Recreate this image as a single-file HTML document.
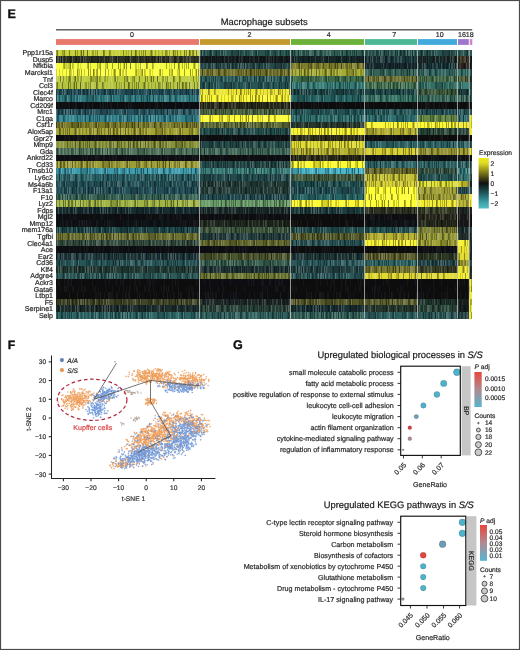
<!DOCTYPE html><html><head><meta charset="utf-8"><style>html,body{margin:0;padding:0;background:#fff;overflow:hidden;width:520px;height:650px}svg{display:block;will-change:transform;text-rendering:geometricPrecision}</style></head><body>
<svg width="520" height="650" viewBox="0 0 520 650">
<rect width="520" height="650" fill="#fff"/>
<text x="7.5" y="17.9" font-family="Liberation Sans, sans-serif" font-size="12.5" font-weight="bold" fill="#111" stroke="#111" stroke-width="0.35">E</text>
<text x="264.2" y="24.9" font-family="Liberation Sans, sans-serif" font-size="9.35" fill="#1a1a1a" stroke="#1a1a1a" stroke-width="0.2" text-anchor="middle">Macrophage subsets</text>
<rect x="56" y="29.1" width="416.2" height="1.4" fill="#555"/>
<rect x="56.00" y="39.1" width="143.00" height="5.8" fill="#E8776C"/>
<rect x="200.00" y="39.1" width="90.00" height="5.8" fill="#C49A2E"/>
<rect x="291.00" y="39.1" width="73.00" height="5.8" fill="#6BB13A"/>
<rect x="365.00" y="39.1" width="52.00" height="5.8" fill="#4DB795"/>
<rect x="418.00" y="39.1" width="39.00" height="5.8" fill="#41A9DC"/>
<rect x="458.00" y="39.1" width="10.80" height="5.8" fill="#9C7ACB"/>
<rect x="469.80" y="39.1" width="2.50" height="5.8" fill="#D67FD0"/>
<g font-family="Liberation Sans, sans-serif" font-size="7.1" fill="#2a2a2a" stroke="#2a2a2a" stroke-width="0.2" text-anchor="middle">
<text x="131.9" y="37.4">0</text>
<text x="249.4" y="37.4">2</text>
<text x="328.8" y="37.4">4</text>
<text x="394.3" y="37.4">7</text>
<text x="439.8" y="37.4">10</text>
<text x="462.0" y="37.4">16</text>
<text x="469.8" y="37.4">18</text>
</g>
<defs><filter id="hb" x="0" y="0" width="1" height="1"><feGaussianBlur stdDeviation="0.35"/></filter></defs><g filter="url(#hb)">
<g shape-rendering="crispEdges">
<rect x="56.00" y="49.50" width="143.50" height="6.61" fill="rgb(197,207,54)"/>
<rect x="56.00" y="56.06" width="143.50" height="6.61" fill="rgb(45,50,35)"/>
<rect x="56.00" y="62.63" width="143.50" height="6.61" fill="rgb(244,254,62)"/>
<rect x="56.00" y="69.19" width="143.50" height="6.61" fill="rgb(252,255,60)"/>
<rect x="56.00" y="75.75" width="143.50" height="6.61" fill="rgb(189,203,58)"/>
<rect x="56.00" y="82.32" width="143.50" height="6.61" fill="rgb(179,194,58)"/>
<rect x="56.00" y="88.88" width="143.50" height="6.61" fill="rgb(35,80,90)"/>
<rect x="56.00" y="95.44" width="143.50" height="6.61" fill="rgb(45,120,125)"/>
<rect x="56.00" y="102.01" width="143.50" height="6.61" fill="rgb(15,15,18)"/>
<rect x="56.00" y="108.57" width="143.50" height="6.61" fill="rgb(40,85,95)"/>
<rect x="56.00" y="115.13" width="143.50" height="6.61" fill="rgb(50,130,140)"/>
<rect x="56.00" y="121.70" width="143.50" height="6.61" fill="rgb(120,120,40)"/>
<rect x="56.00" y="128.26" width="143.50" height="6.61" fill="rgb(163,163,49)"/>
<rect x="56.00" y="134.82" width="143.50" height="6.61" fill="rgb(15,15,18)"/>
<rect x="56.00" y="141.39" width="143.50" height="6.61" fill="rgb(135,146,56)"/>
<rect x="56.00" y="147.95" width="143.50" height="6.61" fill="rgb(80,115,92)"/>
<rect x="56.00" y="154.51" width="143.50" height="6.61" fill="rgb(15,15,20)"/>
<rect x="56.00" y="161.08" width="143.50" height="6.61" fill="rgb(157,157,55)"/>
<rect x="56.00" y="167.64" width="143.50" height="6.61" fill="rgb(60,153,169)"/>
<rect x="56.00" y="174.20" width="143.50" height="6.61" fill="rgb(40,95,100)"/>
<rect x="56.00" y="180.77" width="143.50" height="6.61" fill="rgb(35,80,85)"/>
<rect x="56.00" y="187.33" width="143.50" height="6.61" fill="rgb(35,80,88)"/>
<rect x="56.00" y="193.90" width="143.50" height="6.61" fill="rgb(55,100,85)"/>
<rect x="56.00" y="200.46" width="143.50" height="6.61" fill="rgb(160,180,66)"/>
<rect x="56.00" y="207.02" width="143.50" height="6.61" fill="rgb(22,45,48)"/>
<rect x="56.00" y="213.59" width="143.50" height="6.61" fill="rgb(12,15,18)"/>
<rect x="56.00" y="220.15" width="143.50" height="6.61" fill="rgb(15,18,20)"/>
<rect x="56.00" y="226.71" width="143.50" height="6.61" fill="rgb(30,70,73)"/>
<rect x="56.00" y="233.28" width="143.50" height="6.61" fill="rgb(110,115,50)"/>
<rect x="56.00" y="239.84" width="143.50" height="6.61" fill="rgb(50,75,62)"/>
<rect x="56.00" y="246.40" width="143.50" height="6.61" fill="rgb(12,14,18)"/>
<rect x="56.00" y="252.97" width="143.50" height="6.61" fill="rgb(30,55,58)"/>
<rect x="56.00" y="259.53" width="143.50" height="6.61" fill="rgb(40,85,88)"/>
<rect x="56.00" y="266.09" width="143.50" height="6.61" fill="rgb(35,60,55)"/>
<rect x="56.00" y="272.66" width="143.50" height="6.61" fill="rgb(45,90,90)"/>
<rect x="56.00" y="279.22" width="143.50" height="6.61" fill="rgb(12,12,16)"/>
<rect x="56.00" y="285.78" width="143.50" height="6.61" fill="rgb(14,14,16)"/>
<rect x="56.00" y="292.35" width="143.50" height="6.61" fill="rgb(16,17,16)"/>
<rect x="56.00" y="298.91" width="143.50" height="6.61" fill="rgb(65,70,38)"/>
<rect x="56.00" y="305.47" width="143.50" height="6.61" fill="rgb(30,45,45)"/>
<rect x="56.00" y="312.04" width="143.50" height="6.61" fill="rgb(45,100,100)"/>
<rect x="199.50" y="49.50" width="91.00" height="6.61" fill="rgb(40,85,80)"/>
<rect x="199.50" y="56.06" width="91.00" height="6.61" fill="rgb(20,28,30)"/>
<rect x="199.50" y="62.63" width="91.00" height="6.61" fill="rgb(40,75,75)"/>
<rect x="199.50" y="69.19" width="91.00" height="6.61" fill="rgb(110,110,40)"/>
<rect x="199.50" y="75.75" width="91.00" height="6.61" fill="rgb(45,95,95)"/>
<rect x="199.50" y="82.32" width="91.00" height="6.61" fill="rgb(40,85,85)"/>
<rect x="199.50" y="88.88" width="91.00" height="6.61" fill="rgb(235,229,48)"/>
<rect x="199.50" y="95.44" width="91.00" height="6.61" fill="rgb(252,247,48)"/>
<rect x="199.50" y="102.01" width="91.00" height="6.61" fill="rgb(40,40,25)"/>
<rect x="199.50" y="108.57" width="91.00" height="6.61" fill="rgb(75,100,65)"/>
<rect x="199.50" y="115.13" width="91.00" height="6.61" fill="rgb(255,252,54)"/>
<rect x="199.50" y="121.70" width="91.00" height="6.61" fill="rgb(95,110,55)"/>
<rect x="199.50" y="128.26" width="91.00" height="6.61" fill="rgb(35,75,75)"/>
<rect x="199.50" y="134.82" width="91.00" height="6.61" fill="rgb(12,15,18)"/>
<rect x="199.50" y="141.39" width="91.00" height="6.61" fill="rgb(35,70,70)"/>
<rect x="199.50" y="147.95" width="91.00" height="6.61" fill="rgb(60,100,85)"/>
<rect x="199.50" y="154.51" width="91.00" height="6.61" fill="rgb(15,15,18)"/>
<rect x="199.50" y="161.08" width="91.00" height="6.61" fill="rgb(35,70,70)"/>
<rect x="199.50" y="167.64" width="91.00" height="6.61" fill="rgb(55,125,120)"/>
<rect x="199.50" y="174.20" width="91.00" height="6.61" fill="rgb(35,75,78)"/>
<rect x="199.50" y="180.77" width="91.00" height="6.61" fill="rgb(35,60,55)"/>
<rect x="199.50" y="187.33" width="91.00" height="6.61" fill="rgb(35,60,55)"/>
<rect x="199.50" y="193.90" width="91.00" height="6.61" fill="rgb(35,75,80)"/>
<rect x="199.50" y="200.46" width="91.00" height="6.61" fill="rgb(102,154,102)"/>
<rect x="199.50" y="207.02" width="91.00" height="6.61" fill="rgb(25,40,40)"/>
<rect x="199.50" y="213.59" width="91.00" height="6.61" fill="rgb(15,15,18)"/>
<rect x="199.50" y="220.15" width="91.00" height="6.61" fill="rgb(30,40,30)"/>
<rect x="199.50" y="226.71" width="91.00" height="6.61" fill="rgb(60,85,60)"/>
<rect x="199.50" y="233.28" width="91.00" height="6.61" fill="rgb(35,60,60)"/>
<rect x="199.50" y="239.84" width="91.00" height="6.61" fill="rgb(100,105,45)"/>
<rect x="199.50" y="246.40" width="91.00" height="6.61" fill="rgb(12,12,18)"/>
<rect x="199.50" y="252.97" width="91.00" height="6.61" fill="rgb(75,85,45)"/>
<rect x="199.50" y="259.53" width="91.00" height="6.61" fill="rgb(55,95,80)"/>
<rect x="199.50" y="266.09" width="91.00" height="6.61" fill="rgb(30,50,50)"/>
<rect x="199.50" y="272.66" width="91.00" height="6.61" fill="rgb(110,120,50)"/>
<rect x="199.50" y="279.22" width="91.00" height="6.61" fill="rgb(12,12,18)"/>
<rect x="199.50" y="285.78" width="91.00" height="6.61" fill="rgb(12,12,16)"/>
<rect x="199.50" y="292.35" width="91.00" height="6.61" fill="rgb(15,16,18)"/>
<rect x="199.50" y="298.91" width="91.00" height="6.61" fill="rgb(30,40,38)"/>
<rect x="199.50" y="305.47" width="91.00" height="6.61" fill="rgb(40,65,55)"/>
<rect x="199.50" y="312.04" width="91.00" height="6.61" fill="rgb(45,95,90)"/>
<rect x="290.50" y="49.50" width="74.00" height="6.61" fill="rgb(45,92,82)"/>
<rect x="290.50" y="56.06" width="74.00" height="6.61" fill="rgb(20,38,38)"/>
<rect x="290.50" y="62.63" width="74.00" height="6.61" fill="rgb(126,126,42)"/>
<rect x="290.50" y="69.19" width="74.00" height="6.61" fill="rgb(164,170,51)"/>
<rect x="290.50" y="75.75" width="74.00" height="6.61" fill="rgb(60,108,75)"/>
<rect x="290.50" y="82.32" width="74.00" height="6.61" fill="rgb(50,120,115)"/>
<rect x="290.50" y="88.88" width="74.00" height="6.61" fill="rgb(30,70,72)"/>
<rect x="290.50" y="95.44" width="74.00" height="6.61" fill="rgb(40,100,100)"/>
<rect x="290.50" y="102.01" width="74.00" height="6.61" fill="rgb(14,14,15)"/>
<rect x="290.50" y="108.57" width="74.00" height="6.61" fill="rgb(35,82,84)"/>
<rect x="290.50" y="115.13" width="74.00" height="6.61" fill="rgb(45,110,108)"/>
<rect x="290.50" y="121.70" width="74.00" height="6.61" fill="rgb(38,55,45)"/>
<rect x="290.50" y="128.26" width="74.00" height="6.61" fill="rgb(247,242,46)"/>
<rect x="290.50" y="134.82" width="74.00" height="6.61" fill="rgb(45,45,25)"/>
<rect x="290.50" y="141.39" width="74.00" height="6.61" fill="rgb(223,219,48)"/>
<rect x="290.50" y="147.95" width="74.00" height="6.61" fill="rgb(183,178,47)"/>
<rect x="290.50" y="154.51" width="74.00" height="6.61" fill="rgb(40,40,22)"/>
<rect x="290.50" y="161.08" width="74.00" height="6.61" fill="rgb(255,252,51)"/>
<rect x="290.50" y="167.64" width="74.00" height="6.61" fill="rgb(73,179,199)"/>
<rect x="290.50" y="174.20" width="74.00" height="6.61" fill="rgb(65,90,62)"/>
<rect x="290.50" y="180.77" width="74.00" height="6.61" fill="rgb(30,75,76)"/>
<rect x="290.50" y="187.33" width="74.00" height="6.61" fill="rgb(35,80,85)"/>
<rect x="290.50" y="193.90" width="74.00" height="6.61" fill="rgb(40,100,100)"/>
<rect x="290.50" y="200.46" width="74.00" height="6.61" fill="rgb(255,249,51)"/>
<rect x="290.50" y="207.02" width="74.00" height="6.61" fill="rgb(30,60,60)"/>
<rect x="290.50" y="213.59" width="74.00" height="6.61" fill="rgb(13,13,15)"/>
<rect x="290.50" y="220.15" width="74.00" height="6.61" fill="rgb(15,15,16)"/>
<rect x="290.50" y="226.71" width="74.00" height="6.61" fill="rgb(35,78,78)"/>
<rect x="290.50" y="233.28" width="74.00" height="6.61" fill="rgb(85,92,42)"/>
<rect x="290.50" y="239.84" width="74.00" height="6.61" fill="rgb(38,80,82)"/>
<rect x="290.50" y="246.40" width="74.00" height="6.61" fill="rgb(13,14,16)"/>
<rect x="290.50" y="252.97" width="74.00" height="6.61" fill="rgb(28,52,54)"/>
<rect x="290.50" y="259.53" width="74.00" height="6.61" fill="rgb(42,88,90)"/>
<rect x="290.50" y="266.09" width="74.00" height="6.61" fill="rgb(33,66,68)"/>
<rect x="290.50" y="272.66" width="74.00" height="6.61" fill="rgb(42,88,90)"/>
<rect x="290.50" y="279.22" width="74.00" height="6.61" fill="rgb(12,12,14)"/>
<rect x="290.50" y="285.78" width="74.00" height="6.61" fill="rgb(12,12,14)"/>
<rect x="290.50" y="292.35" width="74.00" height="6.61" fill="rgb(15,15,15)"/>
<rect x="290.50" y="298.91" width="74.00" height="6.61" fill="rgb(85,88,40)"/>
<rect x="290.50" y="305.47" width="74.00" height="6.61" fill="rgb(25,48,52)"/>
<rect x="290.50" y="312.04" width="74.00" height="6.61" fill="rgb(50,95,88)"/>
<rect x="364.50" y="49.50" width="53.00" height="6.61" fill="rgb(40,84,78)"/>
<rect x="364.50" y="56.06" width="53.00" height="6.61" fill="rgb(25,52,55)"/>
<rect x="364.50" y="62.63" width="53.00" height="6.61" fill="rgb(20,38,42)"/>
<rect x="364.50" y="69.19" width="53.00" height="6.61" fill="rgb(52,100,88)"/>
<rect x="364.50" y="75.75" width="53.00" height="6.61" fill="rgb(105,110,48)"/>
<rect x="364.50" y="82.32" width="53.00" height="6.61" fill="rgb(70,118,85)"/>
<rect x="364.50" y="88.88" width="53.00" height="6.61" fill="rgb(30,70,70)"/>
<rect x="364.50" y="95.44" width="53.00" height="6.61" fill="rgb(50,110,95)"/>
<rect x="364.50" y="102.01" width="53.00" height="6.61" fill="rgb(15,15,15)"/>
<rect x="364.50" y="108.57" width="53.00" height="6.61" fill="rgb(35,85,85)"/>
<rect x="364.50" y="115.13" width="53.00" height="6.61" fill="rgb(45,110,110)"/>
<rect x="364.50" y="121.70" width="53.00" height="6.61" fill="rgb(252,247,48)"/>
<rect x="364.50" y="128.26" width="53.00" height="6.61" fill="rgb(183,177,49)"/>
<rect x="364.50" y="134.82" width="53.00" height="6.61" fill="rgb(15,15,18)"/>
<rect x="364.50" y="141.39" width="53.00" height="6.61" fill="rgb(45,100,100)"/>
<rect x="364.50" y="147.95" width="53.00" height="6.61" fill="rgb(212,206,48)"/>
<rect x="364.50" y="154.51" width="53.00" height="6.61" fill="rgb(15,18,20)"/>
<rect x="364.50" y="161.08" width="53.00" height="6.61" fill="rgb(45,100,100)"/>
<rect x="364.50" y="167.64" width="53.00" height="6.61" fill="rgb(100,100,40)"/>
<rect x="364.50" y="174.20" width="53.00" height="6.61" fill="rgb(197,191,49)"/>
<rect x="364.50" y="180.77" width="53.00" height="6.61" fill="rgb(212,206,48)"/>
<rect x="364.50" y="187.33" width="53.00" height="6.61" fill="rgb(255,255,51)"/>
<rect x="364.50" y="193.90" width="53.00" height="6.61" fill="rgb(255,255,51)"/>
<rect x="364.50" y="200.46" width="53.00" height="6.61" fill="rgb(255,255,51)"/>
<rect x="364.50" y="207.02" width="53.00" height="6.61" fill="rgb(45,50,35)"/>
<rect x="364.50" y="213.59" width="53.00" height="6.61" fill="rgb(15,15,18)"/>
<rect x="364.50" y="220.15" width="53.00" height="6.61" fill="rgb(15,18,20)"/>
<rect x="364.50" y="226.71" width="53.00" height="6.61" fill="rgb(38,82,82)"/>
<rect x="364.50" y="233.28" width="53.00" height="6.61" fill="rgb(183,177,49)"/>
<rect x="364.50" y="239.84" width="53.00" height="6.61" fill="rgb(247,241,48)"/>
<rect x="364.50" y="246.40" width="53.00" height="6.61" fill="rgb(15,15,15)"/>
<rect x="364.50" y="252.97" width="53.00" height="6.61" fill="rgb(95,95,45)"/>
<rect x="364.50" y="259.53" width="53.00" height="6.61" fill="rgb(45,100,100)"/>
<rect x="364.50" y="266.09" width="53.00" height="6.61" fill="rgb(120,120,45)"/>
<rect x="364.50" y="272.66" width="53.00" height="6.61" fill="rgb(223,217,48)"/>
<rect x="364.50" y="279.22" width="53.00" height="6.61" fill="rgb(12,12,15)"/>
<rect x="364.50" y="285.78" width="53.00" height="6.61" fill="rgb(12,12,15)"/>
<rect x="364.50" y="292.35" width="53.00" height="6.61" fill="rgb(15,15,15)"/>
<rect x="364.50" y="298.91" width="53.00" height="6.61" fill="rgb(95,100,50)"/>
<rect x="364.50" y="305.47" width="53.00" height="6.61" fill="rgb(40,55,45)"/>
<rect x="364.50" y="312.04" width="53.00" height="6.61" fill="rgb(45,95,95)"/>
<rect x="417.50" y="49.50" width="40.00" height="6.61" fill="rgb(40,82,80)"/>
<rect x="417.50" y="56.06" width="40.00" height="6.61" fill="rgb(25,42,42)"/>
<rect x="417.50" y="62.63" width="40.00" height="6.61" fill="rgb(25,52,58)"/>
<rect x="417.50" y="69.19" width="40.00" height="6.61" fill="rgb(45,95,90)"/>
<rect x="417.50" y="75.75" width="40.00" height="6.61" fill="rgb(70,110,75)"/>
<rect x="417.50" y="82.32" width="40.00" height="6.61" fill="rgb(50,110,100)"/>
<rect x="417.50" y="88.88" width="40.00" height="6.61" fill="rgb(55,85,55)"/>
<rect x="417.50" y="95.44" width="40.00" height="6.61" fill="rgb(55,105,90)"/>
<rect x="417.50" y="102.01" width="40.00" height="6.61" fill="rgb(15,15,15)"/>
<rect x="417.50" y="108.57" width="40.00" height="6.61" fill="rgb(35,80,85)"/>
<rect x="417.50" y="115.13" width="40.00" height="6.61" fill="rgb(101,136,70)"/>
<rect x="417.50" y="121.70" width="40.00" height="6.61" fill="rgb(252,247,43)"/>
<rect x="417.50" y="128.26" width="40.00" height="6.61" fill="rgb(40,70,55)"/>
<rect x="417.50" y="134.82" width="40.00" height="6.61" fill="rgb(15,15,15)"/>
<rect x="417.50" y="141.39" width="40.00" height="6.61" fill="rgb(45,100,100)"/>
<rect x="417.50" y="147.95" width="40.00" height="6.61" fill="rgb(144,142,45)"/>
<rect x="417.50" y="154.51" width="40.00" height="6.61" fill="rgb(15,18,20)"/>
<rect x="417.50" y="161.08" width="40.00" height="6.61" fill="rgb(45,100,100)"/>
<rect x="417.50" y="167.64" width="40.00" height="6.61" fill="rgb(50,80,65)"/>
<rect x="417.50" y="174.20" width="40.00" height="6.61" fill="rgb(40,85,85)"/>
<rect x="417.50" y="180.77" width="40.00" height="6.61" fill="rgb(223,223,48)"/>
<rect x="417.50" y="187.33" width="40.00" height="6.61" fill="rgb(157,157,49)"/>
<rect x="417.50" y="193.90" width="40.00" height="6.61" fill="rgb(157,157,49)"/>
<rect x="417.50" y="200.46" width="40.00" height="6.61" fill="rgb(241,235,48)"/>
<rect x="417.50" y="207.02" width="40.00" height="6.61" fill="rgb(50,55,35)"/>
<rect x="417.50" y="213.59" width="40.00" height="6.61" fill="rgb(38,38,26)"/>
<rect x="417.50" y="220.15" width="40.00" height="6.61" fill="rgb(35,38,25)"/>
<rect x="417.50" y="226.71" width="40.00" height="6.61" fill="rgb(121,126,50)"/>
<rect x="417.50" y="233.28" width="40.00" height="6.61" fill="rgb(145,150,49)"/>
<rect x="417.50" y="239.84" width="40.00" height="6.61" fill="rgb(157,157,49)"/>
<rect x="417.50" y="246.40" width="40.00" height="6.61" fill="rgb(15,15,20)"/>
<rect x="417.50" y="252.97" width="40.00" height="6.61" fill="rgb(45,55,35)"/>
<rect x="417.50" y="259.53" width="40.00" height="6.61" fill="rgb(35,70,75)"/>
<rect x="417.50" y="266.09" width="40.00" height="6.61" fill="rgb(55,60,35)"/>
<rect x="417.50" y="272.66" width="40.00" height="6.61" fill="rgb(223,217,48)"/>
<rect x="417.50" y="279.22" width="40.00" height="6.61" fill="rgb(12,12,15)"/>
<rect x="417.50" y="285.78" width="40.00" height="6.61" fill="rgb(12,12,15)"/>
<rect x="417.50" y="292.35" width="40.00" height="6.61" fill="rgb(14,14,15)"/>
<rect x="417.50" y="298.91" width="40.00" height="6.61" fill="rgb(30,48,42)"/>
<rect x="417.50" y="305.47" width="40.00" height="6.61" fill="rgb(38,66,54)"/>
<rect x="417.50" y="312.04" width="40.00" height="6.61" fill="rgb(42,86,86)"/>
<rect x="457.50" y="49.50" width="11.80" height="6.61" fill="rgb(40,82,76)"/>
<rect x="457.50" y="56.06" width="11.80" height="6.61" fill="rgb(58,53,35)"/>
<rect x="457.50" y="62.63" width="11.80" height="6.61" fill="rgb(45,38,32)"/>
<rect x="457.50" y="69.19" width="11.80" height="6.61" fill="rgb(58,118,110)"/>
<rect x="457.50" y="75.75" width="11.80" height="6.61" fill="rgb(78,98,58)"/>
<rect x="457.50" y="82.32" width="11.80" height="6.61" fill="rgb(60,128,118)"/>
<rect x="457.50" y="88.88" width="11.80" height="6.61" fill="rgb(30,60,60)"/>
<rect x="457.50" y="95.44" width="11.80" height="6.61" fill="rgb(62,108,95)"/>
<rect x="457.50" y="102.01" width="11.80" height="6.61" fill="rgb(15,15,15)"/>
<rect x="457.50" y="108.57" width="11.80" height="6.61" fill="rgb(40,90,90)"/>
<rect x="457.50" y="115.13" width="11.80" height="6.61" fill="rgb(45,105,110)"/>
<rect x="457.50" y="121.70" width="11.80" height="6.61" fill="rgb(241,235,43)"/>
<rect x="457.50" y="128.26" width="11.80" height="6.61" fill="rgb(40,65,55)"/>
<rect x="457.50" y="134.82" width="11.80" height="6.61" fill="rgb(15,15,15)"/>
<rect x="457.50" y="141.39" width="11.80" height="6.61" fill="rgb(40,95,95)"/>
<rect x="457.50" y="147.95" width="11.80" height="6.61" fill="rgb(162,157,47)"/>
<rect x="457.50" y="154.51" width="11.80" height="6.61" fill="rgb(15,18,20)"/>
<rect x="457.50" y="161.08" width="11.80" height="6.61" fill="rgb(45,100,100)"/>
<rect x="457.50" y="167.64" width="11.80" height="6.61" fill="rgb(55,130,130)"/>
<rect x="457.50" y="174.20" width="11.80" height="6.61" fill="rgb(50,110,110)"/>
<rect x="457.50" y="180.77" width="11.80" height="6.61" fill="rgb(212,206,48)"/>
<rect x="457.50" y="187.33" width="11.80" height="6.61" fill="rgb(40,75,80)"/>
<rect x="457.50" y="193.90" width="11.80" height="6.61" fill="rgb(169,164,49)"/>
<rect x="457.50" y="200.46" width="11.80" height="6.61" fill="rgb(183,177,49)"/>
<rect x="457.50" y="207.02" width="11.80" height="6.61" fill="rgb(30,38,35)"/>
<rect x="457.50" y="213.59" width="11.80" height="6.61" fill="rgb(28,30,28)"/>
<rect x="457.50" y="220.15" width="11.80" height="6.61" fill="rgb(20,20,20)"/>
<rect x="457.50" y="226.71" width="11.80" height="6.61" fill="rgb(30,48,48)"/>
<rect x="457.50" y="233.28" width="11.80" height="6.61" fill="rgb(32,45,42)"/>
<rect x="457.50" y="239.84" width="11.80" height="6.61" fill="rgb(247,241,48)"/>
<rect x="457.50" y="246.40" width="11.80" height="6.61" fill="rgb(235,229,48)"/>
<rect x="457.50" y="252.97" width="11.80" height="6.61" fill="rgb(223,217,48)"/>
<rect x="457.50" y="259.53" width="11.80" height="6.61" fill="rgb(157,157,49)"/>
<rect x="457.50" y="266.09" width="11.80" height="6.61" fill="rgb(235,229,48)"/>
<rect x="457.50" y="272.66" width="11.80" height="6.61" fill="rgb(247,241,48)"/>
<rect x="457.50" y="279.22" width="11.80" height="6.61" fill="rgb(12,12,15)"/>
<rect x="457.50" y="285.78" width="11.80" height="6.61" fill="rgb(12,12,15)"/>
<rect x="457.50" y="292.35" width="11.80" height="6.61" fill="rgb(14,14,15)"/>
<rect x="457.50" y="298.91" width="11.80" height="6.61" fill="rgb(20,28,28)"/>
<rect x="457.50" y="305.47" width="11.80" height="6.61" fill="rgb(20,30,30)"/>
<rect x="457.50" y="312.04" width="11.80" height="6.61" fill="rgb(30,55,55)"/>
<rect x="469.30" y="49.50" width="3.00" height="6.61" fill="rgb(40,85,85)"/>
<rect x="469.30" y="56.06" width="3.00" height="6.61" fill="rgb(25,40,40)"/>
<rect x="469.30" y="62.63" width="3.00" height="6.61" fill="rgb(25,40,40)"/>
<rect x="469.30" y="69.19" width="3.00" height="6.61" fill="rgb(40,85,85)"/>
<rect x="469.30" y="75.75" width="3.00" height="6.61" fill="rgb(40,70,60)"/>
<rect x="469.30" y="82.32" width="3.00" height="6.61" fill="rgb(40,85,85)"/>
<rect x="469.30" y="88.88" width="3.00" height="6.61" fill="rgb(40,85,85)"/>
<rect x="469.30" y="95.44" width="3.00" height="6.61" fill="rgb(40,85,85)"/>
<rect x="469.30" y="102.01" width="3.00" height="6.61" fill="rgb(15,15,15)"/>
<rect x="469.30" y="108.57" width="3.00" height="6.61" fill="rgb(40,85,85)"/>
<rect x="469.30" y="115.13" width="3.00" height="6.61" fill="rgb(241,235,48)"/>
<rect x="469.30" y="121.70" width="3.00" height="6.61" fill="rgb(241,235,48)"/>
<rect x="469.30" y="128.26" width="3.00" height="6.61" fill="rgb(241,235,48)"/>
<rect x="469.30" y="134.82" width="3.00" height="6.61" fill="rgb(15,15,15)"/>
<rect x="469.30" y="141.39" width="3.00" height="6.61" fill="rgb(40,85,85)"/>
<rect x="469.30" y="147.95" width="3.00" height="6.61" fill="rgb(241,235,48)"/>
<rect x="469.30" y="154.51" width="3.00" height="6.61" fill="rgb(15,15,15)"/>
<rect x="469.30" y="161.08" width="3.00" height="6.61" fill="rgb(40,85,85)"/>
<rect x="469.30" y="167.64" width="3.00" height="6.61" fill="rgb(40,85,85)"/>
<rect x="469.30" y="174.20" width="3.00" height="6.61" fill="rgb(40,85,85)"/>
<rect x="469.30" y="180.77" width="3.00" height="6.61" fill="rgb(30,45,45)"/>
<rect x="469.30" y="187.33" width="3.00" height="6.61" fill="rgb(40,85,85)"/>
<rect x="469.30" y="193.90" width="3.00" height="6.61" fill="rgb(241,235,48)"/>
<rect x="469.30" y="200.46" width="3.00" height="6.61" fill="rgb(241,235,48)"/>
<rect x="469.30" y="207.02" width="3.00" height="6.61" fill="rgb(30,35,30)"/>
<rect x="469.30" y="213.59" width="3.00" height="6.61" fill="rgb(15,15,15)"/>
<rect x="469.30" y="220.15" width="3.00" height="6.61" fill="rgb(15,15,15)"/>
<rect x="469.30" y="226.71" width="3.00" height="6.61" fill="rgb(30,55,55)"/>
<rect x="469.30" y="233.28" width="3.00" height="6.61" fill="rgb(30,45,45)"/>
<rect x="469.30" y="239.84" width="3.00" height="6.61" fill="rgb(30,45,45)"/>
<rect x="469.30" y="246.40" width="3.00" height="6.61" fill="rgb(30,40,40)"/>
<rect x="469.30" y="252.97" width="3.00" height="6.61" fill="rgb(30,45,45)"/>
<rect x="469.30" y="259.53" width="3.00" height="6.61" fill="rgb(40,70,60)"/>
<rect x="469.30" y="266.09" width="3.00" height="6.61" fill="rgb(30,45,45)"/>
<rect x="469.30" y="272.66" width="3.00" height="6.61" fill="rgb(40,60,50)"/>
<rect x="469.30" y="279.22" width="3.00" height="6.61" fill="rgb(241,235,48)"/>
<rect x="469.30" y="285.78" width="3.00" height="6.61" fill="rgb(241,235,48)"/>
<rect x="469.30" y="292.35" width="3.00" height="6.61" fill="rgb(241,235,48)"/>
<rect x="469.30" y="298.91" width="3.00" height="6.61" fill="rgb(241,235,48)"/>
<rect x="469.30" y="305.47" width="3.00" height="6.61" fill="rgb(241,235,48)"/>
<rect x="469.30" y="312.04" width="3.00" height="6.61" fill="rgb(241,235,48)"/>
</g>
<defs><pattern id="st" width="211" height="10" patternUnits="userSpaceOnUse">
<rect x="0" y="0" width="1" height="10" fill="#000" fill-opacity="0.18"/>
<rect x="1" y="0" width="1" height="10" fill="#fff" fill-opacity="0.06"/>
<rect x="2" y="0" width="1" height="10" fill="#fff" fill-opacity="0.10"/>
<rect x="3" y="0" width="1" height="10" fill="#000" fill-opacity="0.31"/>
<rect x="4" y="0" width="1" height="10" fill="#000" fill-opacity="0.28"/>
<rect x="5" y="0" width="1" height="10" fill="#000" fill-opacity="0.15"/>
<rect x="6" y="0" width="1" height="10" fill="#fff" fill-opacity="0.17"/>
<rect x="7" y="0" width="1" height="10" fill="#000" fill-opacity="0.20"/>
<rect x="8" y="0" width="1" height="10" fill="#fff" fill-opacity="0.19"/>
<rect x="9" y="0" width="1" height="10" fill="#fff" fill-opacity="0.11"/>
<rect x="11" y="0" width="1" height="10" fill="#000" fill-opacity="0.45"/>
<rect x="12" y="0" width="1" height="10" fill="#000" fill-opacity="0.17"/>
<rect x="13" y="0" width="1" height="10" fill="#000" fill-opacity="0.24"/>
<rect x="15" y="0" width="1" height="10" fill="#000" fill-opacity="0.34"/>
<rect x="16" y="0" width="1" height="10" fill="#fff" fill-opacity="0.11"/>
<rect x="17" y="0" width="1" height="10" fill="#fff" fill-opacity="0.06"/>
<rect x="18" y="0" width="1" height="10" fill="#000" fill-opacity="0.20"/>
<rect x="20" y="0" width="1" height="10" fill="#fff" fill-opacity="0.10"/>
<rect x="21" y="0" width="1" height="10" fill="#fff" fill-opacity="0.12"/>
<rect x="22" y="0" width="1" height="10" fill="#000" fill-opacity="0.42"/>
<rect x="24" y="0" width="1" height="10" fill="#000" fill-opacity="0.34"/>
<rect x="25" y="0" width="1" height="10" fill="#fff" fill-opacity="0.18"/>
<rect x="27" y="0" width="1" height="10" fill="#000" fill-opacity="0.49"/>
<rect x="28" y="0" width="1" height="10" fill="#000" fill-opacity="0.28"/>
<rect x="30" y="0" width="1" height="10" fill="#000" fill-opacity="0.31"/>
<rect x="31" y="0" width="1" height="10" fill="#000" fill-opacity="0.37"/>
<rect x="33" y="0" width="1" height="10" fill="#fff" fill-opacity="0.18"/>
<rect x="34" y="0" width="1" height="10" fill="#000" fill-opacity="0.38"/>
<rect x="35" y="0" width="1" height="10" fill="#fff" fill-opacity="0.14"/>
<rect x="36" y="0" width="1" height="10" fill="#fff" fill-opacity="0.18"/>
<rect x="38" y="0" width="1" height="10" fill="#fff" fill-opacity="0.15"/>
<rect x="39" y="0" width="1" height="10" fill="#000" fill-opacity="0.39"/>
<rect x="40" y="0" width="1" height="10" fill="#fff" fill-opacity="0.20"/>
<rect x="42" y="0" width="1" height="10" fill="#000" fill-opacity="0.27"/>
<rect x="43" y="0" width="1" height="10" fill="#fff" fill-opacity="0.05"/>
<rect x="44" y="0" width="1" height="10" fill="#fff" fill-opacity="0.08"/>
<rect x="45" y="0" width="1" height="10" fill="#000" fill-opacity="0.14"/>
<rect x="47" y="0" width="1" height="10" fill="#000" fill-opacity="0.21"/>
<rect x="48" y="0" width="1" height="10" fill="#000" fill-opacity="0.45"/>
<rect x="49" y="0" width="1" height="10" fill="#000" fill-opacity="0.29"/>
<rect x="50" y="0" width="1" height="10" fill="#fff" fill-opacity="0.18"/>
<rect x="53" y="0" width="1" height="10" fill="#000" fill-opacity="0.28"/>
<rect x="54" y="0" width="1" height="10" fill="#000" fill-opacity="0.46"/>
<rect x="56" y="0" width="1" height="10" fill="#000" fill-opacity="0.19"/>
<rect x="57" y="0" width="1" height="10" fill="#000" fill-opacity="0.21"/>
<rect x="58" y="0" width="1" height="10" fill="#fff" fill-opacity="0.14"/>
<rect x="59" y="0" width="1" height="10" fill="#000" fill-opacity="0.12"/>
<rect x="60" y="0" width="1" height="10" fill="#000" fill-opacity="0.26"/>
<rect x="61" y="0" width="1" height="10" fill="#fff" fill-opacity="0.19"/>
<rect x="63" y="0" width="1" height="10" fill="#fff" fill-opacity="0.14"/>
<rect x="64" y="0" width="1" height="10" fill="#fff" fill-opacity="0.06"/>
<rect x="69" y="0" width="1" height="10" fill="#000" fill-opacity="0.27"/>
<rect x="70" y="0" width="1" height="10" fill="#000" fill-opacity="0.36"/>
<rect x="71" y="0" width="1" height="10" fill="#000" fill-opacity="0.15"/>
<rect x="72" y="0" width="1" height="10" fill="#000" fill-opacity="0.18"/>
<rect x="73" y="0" width="1" height="10" fill="#000" fill-opacity="0.14"/>
<rect x="74" y="0" width="1" height="10" fill="#000" fill-opacity="0.18"/>
<rect x="75" y="0" width="1" height="10" fill="#000" fill-opacity="0.26"/>
<rect x="76" y="0" width="1" height="10" fill="#000" fill-opacity="0.45"/>
<rect x="77" y="0" width="1" height="10" fill="#fff" fill-opacity="0.07"/>
<rect x="78" y="0" width="1" height="10" fill="#000" fill-opacity="0.25"/>
<rect x="79" y="0" width="1" height="10" fill="#000" fill-opacity="0.17"/>
<rect x="82" y="0" width="1" height="10" fill="#fff" fill-opacity="0.12"/>
<rect x="83" y="0" width="1" height="10" fill="#000" fill-opacity="0.16"/>
<rect x="84" y="0" width="1" height="10" fill="#000" fill-opacity="0.22"/>
<rect x="86" y="0" width="1" height="10" fill="#000" fill-opacity="0.13"/>
<rect x="88" y="0" width="1" height="10" fill="#fff" fill-opacity="0.07"/>
<rect x="89" y="0" width="1" height="10" fill="#fff" fill-opacity="0.05"/>
<rect x="90" y="0" width="1" height="10" fill="#fff" fill-opacity="0.20"/>
<rect x="93" y="0" width="1" height="10" fill="#000" fill-opacity="0.26"/>
<rect x="94" y="0" width="1" height="10" fill="#000" fill-opacity="0.41"/>
<rect x="95" y="0" width="1" height="10" fill="#fff" fill-opacity="0.17"/>
<rect x="96" y="0" width="1" height="10" fill="#000" fill-opacity="0.20"/>
<rect x="103" y="0" width="1" height="10" fill="#000" fill-opacity="0.32"/>
<rect x="104" y="0" width="1" height="10" fill="#000" fill-opacity="0.13"/>
<rect x="105" y="0" width="1" height="10" fill="#000" fill-opacity="0.23"/>
<rect x="106" y="0" width="1" height="10" fill="#000" fill-opacity="0.38"/>
<rect x="108" y="0" width="1" height="10" fill="#fff" fill-opacity="0.19"/>
<rect x="111" y="0" width="1" height="10" fill="#000" fill-opacity="0.20"/>
<rect x="112" y="0" width="1" height="10" fill="#000" fill-opacity="0.19"/>
<rect x="113" y="0" width="1" height="10" fill="#000" fill-opacity="0.36"/>
<rect x="116" y="0" width="1" height="10" fill="#fff" fill-opacity="0.15"/>
<rect x="118" y="0" width="1" height="10" fill="#000" fill-opacity="0.37"/>
<rect x="122" y="0" width="1" height="10" fill="#fff" fill-opacity="0.08"/>
<rect x="124" y="0" width="1" height="10" fill="#000" fill-opacity="0.42"/>
<rect x="126" y="0" width="1" height="10" fill="#000" fill-opacity="0.27"/>
<rect x="129" y="0" width="1" height="10" fill="#000" fill-opacity="0.17"/>
<rect x="130" y="0" width="1" height="10" fill="#000" fill-opacity="0.46"/>
<rect x="132" y="0" width="1" height="10" fill="#000" fill-opacity="0.43"/>
<rect x="134" y="0" width="1" height="10" fill="#fff" fill-opacity="0.10"/>
<rect x="135" y="0" width="1" height="10" fill="#fff" fill-opacity="0.07"/>
<rect x="136" y="0" width="1" height="10" fill="#000" fill-opacity="0.49"/>
<rect x="137" y="0" width="1" height="10" fill="#fff" fill-opacity="0.13"/>
<rect x="139" y="0" width="1" height="10" fill="#fff" fill-opacity="0.18"/>
<rect x="141" y="0" width="1" height="10" fill="#000" fill-opacity="0.22"/>
<rect x="142" y="0" width="1" height="10" fill="#000" fill-opacity="0.21"/>
<rect x="143" y="0" width="1" height="10" fill="#fff" fill-opacity="0.09"/>
<rect x="144" y="0" width="1" height="10" fill="#000" fill-opacity="0.17"/>
<rect x="146" y="0" width="1" height="10" fill="#000" fill-opacity="0.29"/>
<rect x="147" y="0" width="1" height="10" fill="#fff" fill-opacity="0.19"/>
<rect x="148" y="0" width="1" height="10" fill="#fff" fill-opacity="0.19"/>
<rect x="149" y="0" width="1" height="10" fill="#fff" fill-opacity="0.13"/>
<rect x="150" y="0" width="1" height="10" fill="#fff" fill-opacity="0.05"/>
<rect x="151" y="0" width="1" height="10" fill="#fff" fill-opacity="0.08"/>
<rect x="152" y="0" width="1" height="10" fill="#000" fill-opacity="0.42"/>
<rect x="153" y="0" width="1" height="10" fill="#000" fill-opacity="0.30"/>
<rect x="155" y="0" width="1" height="10" fill="#fff" fill-opacity="0.10"/>
<rect x="156" y="0" width="1" height="10" fill="#fff" fill-opacity="0.13"/>
<rect x="158" y="0" width="1" height="10" fill="#000" fill-opacity="0.33"/>
<rect x="159" y="0" width="1" height="10" fill="#000" fill-opacity="0.23"/>
<rect x="161" y="0" width="1" height="10" fill="#fff" fill-opacity="0.13"/>
<rect x="164" y="0" width="1" height="10" fill="#fff" fill-opacity="0.14"/>
<rect x="165" y="0" width="1" height="10" fill="#fff" fill-opacity="0.13"/>
<rect x="167" y="0" width="1" height="10" fill="#fff" fill-opacity="0.13"/>
<rect x="168" y="0" width="1" height="10" fill="#fff" fill-opacity="0.19"/>
<rect x="172" y="0" width="1" height="10" fill="#000" fill-opacity="0.33"/>
<rect x="175" y="0" width="1" height="10" fill="#000" fill-opacity="0.17"/>
<rect x="176" y="0" width="1" height="10" fill="#fff" fill-opacity="0.06"/>
<rect x="177" y="0" width="1" height="10" fill="#000" fill-opacity="0.15"/>
<rect x="178" y="0" width="1" height="10" fill="#fff" fill-opacity="0.17"/>
<rect x="180" y="0" width="1" height="10" fill="#000" fill-opacity="0.39"/>
<rect x="181" y="0" width="1" height="10" fill="#fff" fill-opacity="0.07"/>
<rect x="184" y="0" width="1" height="10" fill="#000" fill-opacity="0.48"/>
<rect x="185" y="0" width="1" height="10" fill="#000" fill-opacity="0.31"/>
<rect x="188" y="0" width="1" height="10" fill="#000" fill-opacity="0.28"/>
<rect x="189" y="0" width="1" height="10" fill="#fff" fill-opacity="0.10"/>
<rect x="190" y="0" width="1" height="10" fill="#000" fill-opacity="0.24"/>
<rect x="192" y="0" width="1" height="10" fill="#000" fill-opacity="0.33"/>
<rect x="193" y="0" width="1" height="10" fill="#fff" fill-opacity="0.05"/>
<rect x="194" y="0" width="1" height="10" fill="#000" fill-opacity="0.36"/>
<rect x="195" y="0" width="1" height="10" fill="#fff" fill-opacity="0.06"/>
<rect x="199" y="0" width="1" height="10" fill="#000" fill-opacity="0.22"/>
<rect x="200" y="0" width="1" height="10" fill="#000" fill-opacity="0.42"/>
<rect x="201" y="0" width="1" height="10" fill="#000" fill-opacity="0.17"/>
<rect x="202" y="0" width="1" height="10" fill="#fff" fill-opacity="0.19"/>
<rect x="204" y="0" width="1" height="10" fill="#000" fill-opacity="0.18"/>
<rect x="206" y="0" width="1" height="10" fill="#fff" fill-opacity="0.16"/>
<rect x="207" y="0" width="1" height="10" fill="#000" fill-opacity="0.14"/>
<rect x="209" y="0" width="1" height="10" fill="#fff" fill-opacity="0.06"/>
</pattern></defs>
<g shape-rendering="crispEdges">
<g transform="translate(162,0)">
<rect x="-106.00" y="49.50" width="143.50" height="6.56" fill="url(#st)"/>
<rect x="37.50" y="49.50" width="91.00" height="6.56" fill="url(#st)"/>
<rect x="128.50" y="49.50" width="74.00" height="6.56" fill="url(#st)"/>
<rect x="202.50" y="49.50" width="53.00" height="6.56" fill="url(#st)"/>
<rect x="255.50" y="49.50" width="40.00" height="6.56" fill="url(#st)"/>
<rect x="295.50" y="49.50" width="11.80" height="6.56" fill="url(#st)"/>
<rect x="307.30" y="49.50" width="3.00" height="6.56" fill="url(#st)"/>
</g>
<g transform="translate(22,0)">
<rect x="34.00" y="56.06" width="143.50" height="6.56" fill="url(#st)"/>
<rect x="177.50" y="56.06" width="91.00" height="6.56" fill="url(#st)" opacity="0.56"/>
<rect x="268.50" y="56.06" width="74.00" height="6.56" fill="url(#st)" opacity="0.77"/>
<rect x="342.50" y="56.06" width="53.00" height="6.56" fill="url(#st)"/>
<rect x="395.50" y="56.06" width="40.00" height="6.56" fill="url(#st)" opacity="0.90"/>
<rect x="435.50" y="56.06" width="11.80" height="6.56" fill="url(#st)"/>
<rect x="447.30" y="56.06" width="3.00" height="6.56" fill="url(#st)" opacity="0.86"/>
</g>
<g transform="translate(205,0)">
<rect x="-149.00" y="62.63" width="143.50" height="6.56" fill="url(#st)"/>
<rect x="-5.50" y="62.63" width="91.00" height="6.56" fill="url(#st)"/>
<rect x="85.50" y="62.63" width="74.00" height="6.56" fill="url(#st)"/>
<rect x="159.50" y="62.63" width="53.00" height="6.56" fill="url(#st)" opacity="0.78"/>
<rect x="212.50" y="62.63" width="40.00" height="6.56" fill="url(#st)"/>
<rect x="252.50" y="62.63" width="11.80" height="6.56" fill="url(#st)" opacity="0.98"/>
<rect x="264.30" y="62.63" width="3.00" height="6.56" fill="url(#st)" opacity="0.86"/>
</g>
<g transform="translate(66,0)">
<rect x="-10.00" y="69.19" width="143.50" height="6.56" fill="url(#st)"/>
<rect x="133.50" y="69.19" width="91.00" height="6.56" fill="url(#st)"/>
<rect x="224.50" y="69.19" width="74.00" height="6.56" fill="url(#st)"/>
<rect x="298.50" y="69.19" width="53.00" height="6.56" fill="url(#st)"/>
<rect x="351.50" y="69.19" width="40.00" height="6.56" fill="url(#st)"/>
<rect x="391.50" y="69.19" width="11.80" height="6.56" fill="url(#st)"/>
<rect x="403.30" y="69.19" width="3.00" height="6.56" fill="url(#st)"/>
</g>
<g transform="translate(21,0)">
<rect x="35.00" y="75.75" width="143.50" height="6.56" fill="url(#st)"/>
<rect x="178.50" y="75.75" width="91.00" height="6.56" fill="url(#st)"/>
<rect x="269.50" y="75.75" width="74.00" height="6.56" fill="url(#st)"/>
<rect x="343.50" y="75.75" width="53.00" height="6.56" fill="url(#st)"/>
<rect x="396.50" y="75.75" width="40.00" height="6.56" fill="url(#st)"/>
<rect x="436.50" y="75.75" width="11.80" height="6.56" fill="url(#st)"/>
<rect x="448.30" y="75.75" width="3.00" height="6.56" fill="url(#st)"/>
</g>
<g transform="translate(155,0)">
<rect x="-99.00" y="82.32" width="143.50" height="6.56" fill="url(#st)"/>
<rect x="44.50" y="82.32" width="91.00" height="6.56" fill="url(#st)"/>
<rect x="135.50" y="82.32" width="74.00" height="6.56" fill="url(#st)"/>
<rect x="209.50" y="82.32" width="53.00" height="6.56" fill="url(#st)"/>
<rect x="262.50" y="82.32" width="40.00" height="6.56" fill="url(#st)"/>
<rect x="302.50" y="82.32" width="11.80" height="6.56" fill="url(#st)"/>
<rect x="314.30" y="82.32" width="3.00" height="6.56" fill="url(#st)"/>
</g>
<g transform="translate(56,0)">
<rect x="0.00" y="88.88" width="143.50" height="6.56" fill="url(#st)"/>
<rect x="143.50" y="88.88" width="91.00" height="6.56" fill="url(#st)"/>
<rect x="234.50" y="88.88" width="74.00" height="6.56" fill="url(#st)"/>
<rect x="308.50" y="88.88" width="53.00" height="6.56" fill="url(#st)"/>
<rect x="361.50" y="88.88" width="40.00" height="6.56" fill="url(#st)"/>
<rect x="401.50" y="88.88" width="11.80" height="6.56" fill="url(#st)"/>
<rect x="413.30" y="88.88" width="3.00" height="6.56" fill="url(#st)"/>
</g>
<g transform="translate(17,0)">
<rect x="39.00" y="95.44" width="143.50" height="6.56" fill="url(#st)"/>
<rect x="182.50" y="95.44" width="91.00" height="6.56" fill="url(#st)"/>
<rect x="273.50" y="95.44" width="74.00" height="6.56" fill="url(#st)"/>
<rect x="347.50" y="95.44" width="53.00" height="6.56" fill="url(#st)"/>
<rect x="400.50" y="95.44" width="40.00" height="6.56" fill="url(#st)"/>
<rect x="440.50" y="95.44" width="11.80" height="6.56" fill="url(#st)"/>
<rect x="452.30" y="95.44" width="3.00" height="6.56" fill="url(#st)"/>
</g>
<g transform="translate(67,0)">
<rect x="-11.00" y="102.01" width="143.50" height="6.56" fill="url(#st)" opacity="0.25"/>
<rect x="132.50" y="102.01" width="91.00" height="6.56" fill="url(#st)" opacity="0.95"/>
<rect x="223.50" y="102.01" width="74.00" height="6.56" fill="url(#st)" opacity="0.25"/>
<rect x="297.50" y="102.01" width="53.00" height="6.56" fill="url(#st)" opacity="0.25"/>
<rect x="350.50" y="102.01" width="40.00" height="6.56" fill="url(#st)" opacity="0.25"/>
<rect x="390.50" y="102.01" width="11.80" height="6.56" fill="url(#st)" opacity="0.25"/>
<rect x="402.30" y="102.01" width="3.00" height="6.56" fill="url(#st)" opacity="0.25"/>
</g>
<g transform="translate(31,0)">
<rect x="25.00" y="108.57" width="143.50" height="6.56" fill="url(#st)"/>
<rect x="168.50" y="108.57" width="91.00" height="6.56" fill="url(#st)"/>
<rect x="259.50" y="108.57" width="74.00" height="6.56" fill="url(#st)"/>
<rect x="333.50" y="108.57" width="53.00" height="6.56" fill="url(#st)"/>
<rect x="386.50" y="108.57" width="40.00" height="6.56" fill="url(#st)"/>
<rect x="426.50" y="108.57" width="11.80" height="6.56" fill="url(#st)"/>
<rect x="438.30" y="108.57" width="3.00" height="6.56" fill="url(#st)"/>
</g>
<g transform="translate(116,0)">
<rect x="-60.00" y="115.13" width="143.50" height="6.56" fill="url(#st)"/>
<rect x="83.50" y="115.13" width="91.00" height="6.56" fill="url(#st)"/>
<rect x="174.50" y="115.13" width="74.00" height="6.56" fill="url(#st)"/>
<rect x="248.50" y="115.13" width="53.00" height="6.56" fill="url(#st)"/>
<rect x="301.50" y="115.13" width="40.00" height="6.56" fill="url(#st)"/>
<rect x="341.50" y="115.13" width="11.80" height="6.56" fill="url(#st)"/>
<rect x="353.30" y="115.13" width="3.00" height="6.56" fill="url(#st)"/>
</g>
<g transform="translate(2,0)">
<rect x="54.00" y="121.70" width="143.50" height="6.56" fill="url(#st)"/>
<rect x="197.50" y="121.70" width="91.00" height="6.56" fill="url(#st)"/>
<rect x="288.50" y="121.70" width="74.00" height="6.56" fill="url(#st)"/>
<rect x="362.50" y="121.70" width="53.00" height="6.56" fill="url(#st)"/>
<rect x="415.50" y="121.70" width="40.00" height="6.56" fill="url(#st)"/>
<rect x="455.50" y="121.70" width="11.80" height="6.56" fill="url(#st)"/>
<rect x="467.30" y="121.70" width="3.00" height="6.56" fill="url(#st)"/>
</g>
<g transform="translate(86,0)">
<rect x="-30.00" y="128.26" width="143.50" height="6.56" fill="url(#st)"/>
<rect x="113.50" y="128.26" width="91.00" height="6.56" fill="url(#st)"/>
<rect x="204.50" y="128.26" width="74.00" height="6.56" fill="url(#st)"/>
<rect x="278.50" y="128.26" width="53.00" height="6.56" fill="url(#st)"/>
<rect x="331.50" y="128.26" width="40.00" height="6.56" fill="url(#st)"/>
<rect x="371.50" y="128.26" width="11.80" height="6.56" fill="url(#st)"/>
<rect x="383.30" y="128.26" width="3.00" height="6.56" fill="url(#st)"/>
</g>
<g transform="translate(141,0)">
<rect x="-85.00" y="134.82" width="143.50" height="6.56" fill="url(#st)" opacity="0.25"/>
<rect x="58.50" y="134.82" width="91.00" height="6.56" fill="url(#st)" opacity="0.25"/>
<rect x="149.50" y="134.82" width="74.00" height="6.56" fill="url(#st)"/>
<rect x="223.50" y="134.82" width="53.00" height="6.56" fill="url(#st)" opacity="0.25"/>
<rect x="276.50" y="134.82" width="40.00" height="6.56" fill="url(#st)" opacity="0.25"/>
<rect x="316.50" y="134.82" width="11.80" height="6.56" fill="url(#st)" opacity="0.25"/>
<rect x="328.30" y="134.82" width="3.00" height="6.56" fill="url(#st)" opacity="0.25"/>
</g>
<g transform="translate(106,0)">
<rect x="-50.00" y="141.39" width="143.50" height="6.56" fill="url(#st)"/>
<rect x="93.50" y="141.39" width="91.00" height="6.56" fill="url(#st)"/>
<rect x="184.50" y="141.39" width="74.00" height="6.56" fill="url(#st)"/>
<rect x="258.50" y="141.39" width="53.00" height="6.56" fill="url(#st)"/>
<rect x="311.50" y="141.39" width="40.00" height="6.56" fill="url(#st)"/>
<rect x="351.50" y="141.39" width="11.80" height="6.56" fill="url(#st)"/>
<rect x="363.30" y="141.39" width="3.00" height="6.56" fill="url(#st)"/>
</g>
<g transform="translate(68,0)">
<rect x="-12.00" y="147.95" width="143.50" height="6.56" fill="url(#st)"/>
<rect x="131.50" y="147.95" width="91.00" height="6.56" fill="url(#st)"/>
<rect x="222.50" y="147.95" width="74.00" height="6.56" fill="url(#st)"/>
<rect x="296.50" y="147.95" width="53.00" height="6.56" fill="url(#st)"/>
<rect x="349.50" y="147.95" width="40.00" height="6.56" fill="url(#st)"/>
<rect x="389.50" y="147.95" width="11.80" height="6.56" fill="url(#st)"/>
<rect x="401.30" y="147.95" width="3.00" height="6.56" fill="url(#st)"/>
</g>
<g transform="translate(159,0)">
<rect x="-103.00" y="154.51" width="143.50" height="6.56" fill="url(#st)" opacity="0.25"/>
<rect x="40.50" y="154.51" width="91.00" height="6.56" fill="url(#st)" opacity="0.25"/>
<rect x="131.50" y="154.51" width="74.00" height="6.56" fill="url(#st)" opacity="0.94"/>
<rect x="205.50" y="154.51" width="53.00" height="6.56" fill="url(#st)" opacity="0.29"/>
<rect x="258.50" y="154.51" width="40.00" height="6.56" fill="url(#st)" opacity="0.29"/>
<rect x="298.50" y="154.51" width="11.80" height="6.56" fill="url(#st)" opacity="0.29"/>
<rect x="310.30" y="154.51" width="3.00" height="6.56" fill="url(#st)" opacity="0.25"/>
</g>
<g transform="translate(33,0)">
<rect x="23.00" y="161.08" width="143.50" height="6.56" fill="url(#st)"/>
<rect x="166.50" y="161.08" width="91.00" height="6.56" fill="url(#st)"/>
<rect x="257.50" y="161.08" width="74.00" height="6.56" fill="url(#st)"/>
<rect x="331.50" y="161.08" width="53.00" height="6.56" fill="url(#st)"/>
<rect x="384.50" y="161.08" width="40.00" height="6.56" fill="url(#st)"/>
<rect x="424.50" y="161.08" width="11.80" height="6.56" fill="url(#st)"/>
<rect x="436.30" y="161.08" width="3.00" height="6.56" fill="url(#st)"/>
</g>
<g transform="translate(11,0)">
<rect x="45.00" y="167.64" width="143.50" height="6.56" fill="url(#st)"/>
<rect x="188.50" y="167.64" width="91.00" height="6.56" fill="url(#st)"/>
<rect x="279.50" y="167.64" width="74.00" height="6.56" fill="url(#st)"/>
<rect x="353.50" y="167.64" width="53.00" height="6.56" fill="url(#st)"/>
<rect x="406.50" y="167.64" width="40.00" height="6.56" fill="url(#st)"/>
<rect x="446.50" y="167.64" width="11.80" height="6.56" fill="url(#st)"/>
<rect x="458.30" y="167.64" width="3.00" height="6.56" fill="url(#st)"/>
</g>
<g transform="translate(134,0)">
<rect x="-78.00" y="174.20" width="143.50" height="6.56" fill="url(#st)"/>
<rect x="65.50" y="174.20" width="91.00" height="6.56" fill="url(#st)"/>
<rect x="156.50" y="174.20" width="74.00" height="6.56" fill="url(#st)"/>
<rect x="230.50" y="174.20" width="53.00" height="6.56" fill="url(#st)"/>
<rect x="283.50" y="174.20" width="40.00" height="6.56" fill="url(#st)"/>
<rect x="323.50" y="174.20" width="11.80" height="6.56" fill="url(#st)"/>
<rect x="335.30" y="174.20" width="3.00" height="6.56" fill="url(#st)"/>
</g>
<g transform="translate(181,0)">
<rect x="-125.00" y="180.77" width="143.50" height="6.56" fill="url(#st)"/>
<rect x="18.50" y="180.77" width="91.00" height="6.56" fill="url(#st)"/>
<rect x="109.50" y="180.77" width="74.00" height="6.56" fill="url(#st)"/>
<rect x="183.50" y="180.77" width="53.00" height="6.56" fill="url(#st)"/>
<rect x="236.50" y="180.77" width="40.00" height="6.56" fill="url(#st)"/>
<rect x="276.50" y="180.77" width="11.80" height="6.56" fill="url(#st)"/>
<rect x="288.30" y="180.77" width="3.00" height="6.56" fill="url(#st)"/>
</g>
<g transform="translate(61,0)">
<rect x="-5.00" y="187.33" width="143.50" height="6.56" fill="url(#st)"/>
<rect x="138.50" y="187.33" width="91.00" height="6.56" fill="url(#st)"/>
<rect x="229.50" y="187.33" width="74.00" height="6.56" fill="url(#st)"/>
<rect x="303.50" y="187.33" width="53.00" height="6.56" fill="url(#st)"/>
<rect x="356.50" y="187.33" width="40.00" height="6.56" fill="url(#st)"/>
<rect x="396.50" y="187.33" width="11.80" height="6.56" fill="url(#st)"/>
<rect x="408.30" y="187.33" width="3.00" height="6.56" fill="url(#st)"/>
</g>
<g transform="translate(28,0)">
<rect x="28.00" y="193.90" width="143.50" height="6.56" fill="url(#st)"/>
<rect x="171.50" y="193.90" width="91.00" height="6.56" fill="url(#st)"/>
<rect x="262.50" y="193.90" width="74.00" height="6.56" fill="url(#st)"/>
<rect x="336.50" y="193.90" width="53.00" height="6.56" fill="url(#st)"/>
<rect x="389.50" y="193.90" width="40.00" height="6.56" fill="url(#st)"/>
<rect x="429.50" y="193.90" width="11.80" height="6.56" fill="url(#st)"/>
<rect x="441.30" y="193.90" width="3.00" height="6.56" fill="url(#st)"/>
</g>
<g transform="translate(41,0)">
<rect x="15.00" y="200.46" width="143.50" height="6.56" fill="url(#st)"/>
<rect x="158.50" y="200.46" width="91.00" height="6.56" fill="url(#st)"/>
<rect x="249.50" y="200.46" width="74.00" height="6.56" fill="url(#st)"/>
<rect x="323.50" y="200.46" width="53.00" height="6.56" fill="url(#st)"/>
<rect x="376.50" y="200.46" width="40.00" height="6.56" fill="url(#st)"/>
<rect x="416.50" y="200.46" width="11.80" height="6.56" fill="url(#st)"/>
<rect x="428.30" y="200.46" width="3.00" height="6.56" fill="url(#st)"/>
</g>
<g transform="translate(67,0)">
<rect x="-11.00" y="207.02" width="143.50" height="6.56" fill="url(#st)" opacity="0.95"/>
<rect x="132.50" y="207.02" width="91.00" height="6.56" fill="url(#st)" opacity="0.86"/>
<rect x="223.50" y="207.02" width="74.00" height="6.56" fill="url(#st)"/>
<rect x="297.50" y="207.02" width="53.00" height="6.56" fill="url(#st)"/>
<rect x="350.50" y="207.02" width="40.00" height="6.56" fill="url(#st)"/>
<rect x="390.50" y="207.02" width="11.80" height="6.56" fill="url(#st)" opacity="0.85"/>
<rect x="402.30" y="207.02" width="3.00" height="6.56" fill="url(#st)" opacity="0.78"/>
</g>
<g transform="translate(12,0)">
<rect x="44.00" y="213.59" width="143.50" height="6.56" fill="url(#st)" opacity="0.25"/>
<rect x="187.50" y="213.59" width="91.00" height="6.56" fill="url(#st)" opacity="0.25"/>
<rect x="278.50" y="213.59" width="74.00" height="6.56" fill="url(#st)" opacity="0.25"/>
<rect x="352.50" y="213.59" width="53.00" height="6.56" fill="url(#st)" opacity="0.25"/>
<rect x="405.50" y="213.59" width="40.00" height="6.56" fill="url(#st)" opacity="0.90"/>
<rect x="445.50" y="213.59" width="11.80" height="6.56" fill="url(#st)" opacity="0.66"/>
<rect x="457.30" y="213.59" width="3.00" height="6.56" fill="url(#st)" opacity="0.25"/>
</g>
<g transform="translate(46,0)">
<rect x="10.00" y="220.15" width="143.50" height="6.56" fill="url(#st)" opacity="0.29"/>
<rect x="153.50" y="220.15" width="91.00" height="6.56" fill="url(#st)" opacity="0.87"/>
<rect x="244.50" y="220.15" width="74.00" height="6.56" fill="url(#st)" opacity="0.25"/>
<rect x="318.50" y="220.15" width="53.00" height="6.56" fill="url(#st)" opacity="0.29"/>
<rect x="371.50" y="220.15" width="40.00" height="6.56" fill="url(#st)" opacity="0.86"/>
<rect x="411.50" y="220.15" width="11.80" height="6.56" fill="url(#st)" opacity="0.37"/>
<rect x="423.30" y="220.15" width="3.00" height="6.56" fill="url(#st)" opacity="0.25"/>
</g>
<g transform="translate(51,0)">
<rect x="5.00" y="226.71" width="143.50" height="6.56" fill="url(#st)"/>
<rect x="148.50" y="226.71" width="91.00" height="6.56" fill="url(#st)"/>
<rect x="239.50" y="226.71" width="74.00" height="6.56" fill="url(#st)"/>
<rect x="313.50" y="226.71" width="53.00" height="6.56" fill="url(#st)"/>
<rect x="366.50" y="226.71" width="40.00" height="6.56" fill="url(#st)"/>
<rect x="406.50" y="226.71" width="11.80" height="6.56" fill="url(#st)"/>
<rect x="418.30" y="226.71" width="3.00" height="6.56" fill="url(#st)"/>
</g>
<g transform="translate(79,0)">
<rect x="-23.00" y="233.28" width="143.50" height="6.56" fill="url(#st)"/>
<rect x="120.50" y="233.28" width="91.00" height="6.56" fill="url(#st)"/>
<rect x="211.50" y="233.28" width="74.00" height="6.56" fill="url(#st)"/>
<rect x="285.50" y="233.28" width="53.00" height="6.56" fill="url(#st)"/>
<rect x="338.50" y="233.28" width="40.00" height="6.56" fill="url(#st)"/>
<rect x="378.50" y="233.28" width="11.80" height="6.56" fill="url(#st)"/>
<rect x="390.30" y="233.28" width="3.00" height="6.56" fill="url(#st)"/>
</g>
<g transform="translate(160,0)">
<rect x="-104.00" y="239.84" width="143.50" height="6.56" fill="url(#st)"/>
<rect x="39.50" y="239.84" width="91.00" height="6.56" fill="url(#st)"/>
<rect x="130.50" y="239.84" width="74.00" height="6.56" fill="url(#st)"/>
<rect x="204.50" y="239.84" width="53.00" height="6.56" fill="url(#st)"/>
<rect x="257.50" y="239.84" width="40.00" height="6.56" fill="url(#st)"/>
<rect x="297.50" y="239.84" width="11.80" height="6.56" fill="url(#st)"/>
<rect x="309.30" y="239.84" width="3.00" height="6.56" fill="url(#st)"/>
</g>
<g transform="translate(78,0)">
<rect x="-22.00" y="246.40" width="143.50" height="6.56" fill="url(#st)" opacity="0.25"/>
<rect x="121.50" y="246.40" width="91.00" height="6.56" fill="url(#st)" opacity="0.25"/>
<rect x="212.50" y="246.40" width="74.00" height="6.56" fill="url(#st)" opacity="0.25"/>
<rect x="286.50" y="246.40" width="53.00" height="6.56" fill="url(#st)" opacity="0.25"/>
<rect x="339.50" y="246.40" width="40.00" height="6.56" fill="url(#st)" opacity="0.25"/>
<rect x="379.50" y="246.40" width="11.80" height="6.56" fill="url(#st)"/>
<rect x="391.30" y="246.40" width="3.00" height="6.56" fill="url(#st)" opacity="0.91"/>
</g>
<g transform="translate(135,0)">
<rect x="-79.00" y="252.97" width="143.50" height="6.56" fill="url(#st)"/>
<rect x="64.50" y="252.97" width="91.00" height="6.56" fill="url(#st)"/>
<rect x="155.50" y="252.97" width="74.00" height="6.56" fill="url(#st)"/>
<rect x="229.50" y="252.97" width="53.00" height="6.56" fill="url(#st)"/>
<rect x="282.50" y="252.97" width="40.00" height="6.56" fill="url(#st)"/>
<rect x="322.50" y="252.97" width="11.80" height="6.56" fill="url(#st)"/>
<rect x="334.30" y="252.97" width="3.00" height="6.56" fill="url(#st)"/>
</g>
<g transform="translate(194,0)">
<rect x="-138.00" y="259.53" width="143.50" height="6.56" fill="url(#st)"/>
<rect x="5.50" y="259.53" width="91.00" height="6.56" fill="url(#st)"/>
<rect x="96.50" y="259.53" width="74.00" height="6.56" fill="url(#st)"/>
<rect x="170.50" y="259.53" width="53.00" height="6.56" fill="url(#st)"/>
<rect x="223.50" y="259.53" width="40.00" height="6.56" fill="url(#st)"/>
<rect x="263.50" y="259.53" width="11.80" height="6.56" fill="url(#st)"/>
<rect x="275.30" y="259.53" width="3.00" height="6.56" fill="url(#st)"/>
</g>
<g transform="translate(52,0)">
<rect x="4.00" y="266.09" width="143.50" height="6.56" fill="url(#st)"/>
<rect x="147.50" y="266.09" width="91.00" height="6.56" fill="url(#st)"/>
<rect x="238.50" y="266.09" width="74.00" height="6.56" fill="url(#st)"/>
<rect x="312.50" y="266.09" width="53.00" height="6.56" fill="url(#st)"/>
<rect x="365.50" y="266.09" width="40.00" height="6.56" fill="url(#st)"/>
<rect x="405.50" y="266.09" width="11.80" height="6.56" fill="url(#st)"/>
<rect x="417.30" y="266.09" width="3.00" height="6.56" fill="url(#st)"/>
</g>
<g transform="translate(74,0)">
<rect x="-18.00" y="272.66" width="143.50" height="6.56" fill="url(#st)"/>
<rect x="125.50" y="272.66" width="91.00" height="6.56" fill="url(#st)"/>
<rect x="216.50" y="272.66" width="74.00" height="6.56" fill="url(#st)"/>
<rect x="290.50" y="272.66" width="53.00" height="6.56" fill="url(#st)"/>
<rect x="343.50" y="272.66" width="40.00" height="6.56" fill="url(#st)"/>
<rect x="383.50" y="272.66" width="11.80" height="6.56" fill="url(#st)"/>
<rect x="395.30" y="272.66" width="3.00" height="6.56" fill="url(#st)"/>
</g>
<g transform="translate(114,0)">
<rect x="-58.00" y="279.22" width="143.50" height="6.56" fill="url(#st)" opacity="0.25"/>
<rect x="85.50" y="279.22" width="91.00" height="6.56" fill="url(#st)" opacity="0.25"/>
<rect x="176.50" y="279.22" width="74.00" height="6.56" fill="url(#st)" opacity="0.25"/>
<rect x="250.50" y="279.22" width="53.00" height="6.56" fill="url(#st)" opacity="0.25"/>
<rect x="303.50" y="279.22" width="40.00" height="6.56" fill="url(#st)" opacity="0.25"/>
<rect x="343.50" y="279.22" width="11.80" height="6.56" fill="url(#st)" opacity="0.25"/>
<rect x="355.30" y="279.22" width="3.00" height="6.56" fill="url(#st)"/>
</g>
<g transform="translate(128,0)">
<rect x="-72.00" y="285.78" width="143.50" height="6.56" fill="url(#st)" opacity="0.25"/>
<rect x="71.50" y="285.78" width="91.00" height="6.56" fill="url(#st)" opacity="0.25"/>
<rect x="162.50" y="285.78" width="74.00" height="6.56" fill="url(#st)" opacity="0.25"/>
<rect x="236.50" y="285.78" width="53.00" height="6.56" fill="url(#st)" opacity="0.25"/>
<rect x="289.50" y="285.78" width="40.00" height="6.56" fill="url(#st)" opacity="0.25"/>
<rect x="329.50" y="285.78" width="11.80" height="6.56" fill="url(#st)" opacity="0.25"/>
<rect x="341.30" y="285.78" width="3.00" height="6.56" fill="url(#st)"/>
</g>
<g transform="translate(172,0)">
<rect x="-116.00" y="292.35" width="143.50" height="6.56" fill="url(#st)" opacity="0.27"/>
<rect x="27.50" y="292.35" width="91.00" height="6.56" fill="url(#st)" opacity="0.25"/>
<rect x="118.50" y="292.35" width="74.00" height="6.56" fill="url(#st)" opacity="0.25"/>
<rect x="192.50" y="292.35" width="53.00" height="6.56" fill="url(#st)" opacity="0.25"/>
<rect x="245.50" y="292.35" width="40.00" height="6.56" fill="url(#st)" opacity="0.25"/>
<rect x="285.50" y="292.35" width="11.80" height="6.56" fill="url(#st)" opacity="0.25"/>
<rect x="297.30" y="292.35" width="3.00" height="6.56" fill="url(#st)"/>
</g>
<g transform="translate(45,0)">
<rect x="11.00" y="298.91" width="143.50" height="6.56" fill="url(#st)"/>
<rect x="154.50" y="298.91" width="91.00" height="6.56" fill="url(#st)" opacity="0.90"/>
<rect x="245.50" y="298.91" width="74.00" height="6.56" fill="url(#st)"/>
<rect x="319.50" y="298.91" width="53.00" height="6.56" fill="url(#st)"/>
<rect x="372.50" y="298.91" width="40.00" height="6.56" fill="url(#st)"/>
<rect x="412.50" y="298.91" width="11.80" height="6.56" fill="url(#st)" opacity="0.55"/>
<rect x="424.30" y="298.91" width="3.00" height="6.56" fill="url(#st)"/>
</g>
<g transform="translate(69,0)">
<rect x="-13.00" y="305.47" width="143.50" height="6.56" fill="url(#st)"/>
<rect x="130.50" y="305.47" width="91.00" height="6.56" fill="url(#st)"/>
<rect x="221.50" y="305.47" width="74.00" height="6.56" fill="url(#st)"/>
<rect x="295.50" y="305.47" width="53.00" height="6.56" fill="url(#st)"/>
<rect x="348.50" y="305.47" width="40.00" height="6.56" fill="url(#st)"/>
<rect x="388.50" y="305.47" width="11.80" height="6.56" fill="url(#st)" opacity="0.59"/>
<rect x="400.30" y="305.47" width="3.00" height="6.56" fill="url(#st)"/>
</g>
<g transform="translate(88,0)">
<rect x="-32.00" y="312.04" width="143.50" height="6.56" fill="url(#st)"/>
<rect x="111.50" y="312.04" width="91.00" height="6.56" fill="url(#st)"/>
<rect x="202.50" y="312.04" width="74.00" height="6.56" fill="url(#st)"/>
<rect x="276.50" y="312.04" width="53.00" height="6.56" fill="url(#st)"/>
<rect x="329.50" y="312.04" width="40.00" height="6.56" fill="url(#st)"/>
<rect x="369.50" y="312.04" width="11.80" height="6.56" fill="url(#st)"/>
<rect x="381.30" y="312.04" width="3.00" height="6.56" fill="url(#st)"/>
</g>
</g>
</g>
<rect x="199.05" y="49.50" width="0.9" height="269.10" fill="#d8d8d8" fill-opacity="0.75"/>
<rect x="290.05" y="49.50" width="0.9" height="269.10" fill="#d8d8d8" fill-opacity="0.75"/>
<rect x="364.05" y="49.50" width="0.9" height="269.10" fill="#d8d8d8" fill-opacity="0.75"/>
<rect x="417.05" y="49.50" width="0.9" height="269.10" fill="#d8d8d8" fill-opacity="0.75"/>
<rect x="457.05" y="49.50" width="0.9" height="269.10" fill="#d8d8d8" fill-opacity="0.75"/>
<rect x="468.85" y="49.50" width="0.9" height="269.10" fill="#d8d8d8" fill-opacity="0.75"/>
<g font-family="Liberation Sans, sans-serif" font-size="7.05" fill="#2a2a2a" stroke="#2a2a2a" stroke-width="0.22" text-anchor="end">
<text x="53" y="55.28">Ppp1r15a</text>
<text x="53" y="61.85">Dusp5</text>
<text x="53" y="68.41">Nfkbia</text>
<text x="53" y="74.97">Marcksl1</text>
<text x="53" y="81.54">Tnf</text>
<text x="53" y="88.10">Ccl3</text>
<text x="53" y="94.66">Clec4f</text>
<text x="53" y="101.23">Marco</text>
<text x="53" y="107.79">Cd209f</text>
<text x="53" y="114.35">Mrc1</text>
<text x="53" y="120.92">C1qa</text>
<text x="53" y="127.48">Csf1r</text>
<text x="53" y="134.04">Alox5ap</text>
<text x="53" y="140.61">Gpr27</text>
<text x="53" y="147.17">Mmp9</text>
<text x="53" y="153.73">Gda</text>
<text x="53" y="160.30">Ankrd22</text>
<text x="53" y="166.86">Cd33</text>
<text x="53" y="173.42">Tmsb10</text>
<text x="53" y="179.99">Ly6c2</text>
<text x="53" y="186.55">Ms4a6b</text>
<text x="53" y="193.11">F13a1</text>
<text x="53" y="199.68">F10</text>
<text x="53" y="206.24">Lyz2</text>
<text x="53" y="212.80">Fdps</text>
<text x="53" y="219.37">Mgl2</text>
<text x="53" y="225.93">Mmp12</text>
<text x="53" y="232.49">mem176a</text>
<text x="53" y="239.06">Tgfbi</text>
<text x="53" y="245.62">Clec4a1</text>
<text x="53" y="252.18">Ace</text>
<text x="53" y="258.75">Ear2</text>
<text x="53" y="265.31">Cd36</text>
<text x="53" y="271.87">Klf4</text>
<text x="53" y="278.44">Adgre4</text>
<text x="53" y="285.00">Ackr3</text>
<text x="53" y="291.56">Gata6</text>
<text x="53" y="298.13">Ltbp1</text>
<text x="53" y="304.69">F5</text>
<text x="53" y="311.25">Serpine1</text>
<text x="53" y="317.82">Selp</text>
</g>
<defs><linearGradient id="eg" x1="0" y1="0" x2="0" y2="1"><stop offset="0" stop-color="#ecea18"/><stop offset="0.1" stop-color="#e0dc22"/><stop offset="0.3" stop-color="#7a7418"/><stop offset="0.5" stop-color="#111"/><stop offset="0.7" stop-color="#1f5a60"/><stop offset="0.9" stop-color="#40a8b0"/><stop offset="1" stop-color="#56bcc4"/></linearGradient></defs>
<text x="479" y="154.6" font-family="Liberation Sans, sans-serif" font-size="6.7" fill="#2a2a2a" stroke="#2a2a2a" stroke-width="0.2">Expression</text>
<rect x="478.6" y="158" width="10.2" height="50.5" fill="url(#eg)"/>
<g font-family="Liberation Sans, sans-serif" font-size="6.7" fill="#2a2a2a" stroke="#2a2a2a" stroke-width="0.2">
<text x="490.5" y="166.1">2</text>
<text x="490.5" y="175.8">1</text>
<text x="490.5" y="185.8">0</text>
<text x="490.5" y="195.7">−1</text>
<text x="490.5" y="205.8">−2</text>
</g>
<text x="7.8" y="349" font-family="Liberation Sans, sans-serif" font-size="12.2" font-weight="bold" fill="#111" stroke="#111" stroke-width="0.35">F</text>
<g stroke-linecap="round" fill="none">
<path d="M120.4 463.1h0M144.5 438.5h0M150.3 441.4h0M155.2 425.5h0M150.0 403.8h0M120.7 465.1h0M124.7 446.6h0M175.1 380.8h0M148.0 425.4h0M165.5 373.4h0M159.1 375.2h0M152.5 371.3h0M151.3 381.9h0M188.4 375.1h0M77.9 396.5h0M210.2 426.7h0M153.4 420.3h0M71.8 410.4h0M178.1 415.9h0M146.4 373.4h0M184.5 377.6h0M88.5 396.2h0M158.0 426.9h0M162.5 374.9h0M162.2 432.4h0M194.4 424.6h0M150.0 403.1h0M161.1 417.5h0M165.3 374.5h0M156.9 434.8h0M134.5 464.4h0M196.1 416.1h0M166.7 444.1h0M66.0 395.8h0M148.4 401.7h0M164.1 431.7h0M158.0 378.3h0M68.0 399.3h0M157.0 380.7h0M146.4 373.3h0M198.0 428.5h0M160.5 428.6h0M149.3 446.4h0M155.6 375.1h0M167.7 414.8h0M140.0 441.0h0M71.7 404.4h0M175.4 383.7h0M184.9 416.0h0M154.7 425.8h0M163.6 457.4h0M101.1 401.2h0M153.6 438.8h0M157.0 377.6h0M176.6 413.0h0M191.0 418.2h0M206.7 426.9h0M173.9 382.4h0M124.0 466.4h0M70.7 397.4h0M143.6 443.9h0M81.3 402.6h0M147.3 382.3h0M192.5 426.7h0M148.6 402.3h0M151.6 438.0h0M155.2 434.8h0M163.8 412.4h0M149.2 380.9h0M201.7 423.5h0M154.5 432.5h0M143.3 445.7h0M153.1 440.5h0M158.7 434.4h0M88.1 400.8h0M154.8 375.5h0M186.3 372.7h0M158.3 374.0h0M156.3 382.1h0M144.2 439.3h0M169.1 431.5h0M187.4 419.5h0M150.3 382.0h0M153.6 445.0h0M80.8 399.8h0M132.4 450.2h0M154.5 432.3h0M186.1 386.8h0M157.0 378.8h0M172.6 424.7h0M147.7 431.8h0M208.1 420.2h0M154.6 399.6h0M203.2 430.5h0M157.3 431.7h0M181.2 384.0h0M209.1 424.3h0M144.1 381.1h0M150.2 438.0h0M168.8 425.5h0M159.0 439.0h0M131.6 447.4h0M168.9 379.8h0M139.7 370.6h0M145.5 371.5h0M155.6 376.3h0M78.6 400.1h0M200.3 435.7h0M169.9 427.5h0M136.4 437.8h0M72.7 391.9h0M137.6 445.4h0M185.9 381.6h0M191.5 388.4h0M158.5 369.4h0M206.1 426.3h0M82.2 396.0h0M166.7 418.7h0M120.4 463.1h0M172.2 438.2h0M156.1 400.4h0M151.3 437.2h0M197.2 427.1h0M170.6 386.3h0M175.1 378.2h0M150.3 438.6h0M132.0 375.3h0M187.9 379.3h0M147.3 377.7h0M67.5 399.7h0M174.5 430.7h0M146.4 384.1h0M144.8 375.6h0M200.2 381.7h0M149.5 373.0h0M159.8 430.9h0M176.3 416.8h0M168.1 376.3h0M164.1 382.8h0M156.0 425.8h0M163.5 435.4h0M160.0 369.3h0M143.0 378.7h0M151.3 427.4h0M200.3 424.3h0M154.3 373.5h0M181.3 413.6h0M63.4 402.1h0M167.9 435.7h0M178.4 372.5h0M136.8 442.4h0M162.7 421.2h0M199.6 430.5h0M166.1 373.6h0M120.0 466.1h0M158.7 427.3h0M79.2 396.0h0M120.6 466.9h0M156.9 376.5h0M138.0 372.0h0M144.0 435.8h0M134.5 442.6h0M135.5 376.5h0M174.4 449.8h0M151.9 445.1h0M195.4 381.7h0M156.8 377.2h0M198.0 420.4h0M150.6 437.9h0M95.4 398.6h0M176.7 436.4h0M145.5 378.4h0M188.5 381.7h0M86.5 400.2h0M162.2 373.2h0M172.0 432.5h0M80.3 400.9h0M150.8 378.2h0M70.4 405.2h0M77.8 397.6h0M138.2 377.4h0M149.8 398.5h0M190.4 389.0h0M180.5 413.7h0M161.3 427.1h0M122.2 465.3h0M77.2 401.6h0M147.4 427.6h0M194.0 428.1h0M70.2 397.2h0M160.0 374.8h0M165.2 415.9h0M71.6 398.1h0M198.5 383.6h0M168.9 425.1h0M177.0 417.8h0M139.5 455.2h0M152.3 377.1h0M76.8 402.4h0M132.0 446.1h0M153.3 373.6h0M168.6 427.6h0M69.2 403.5h0M168.8 419.0h0M74.3 397.2h0M84.6 396.2h0M185.8 418.2h0M75.3 403.0h0M119.9 466.2h0M155.4 415.6h0M165.3 430.2h0M127.0 457.4h0M67.5 400.3h0M144.5 455.3h0M70.9 406.5h0M74.7 401.5h0M156.4 378.0h0M138.8 444.9h0M147.7 405.3h0M167.3 373.3h0M145.5 440.9h0M161.9 428.3h0M116.8 465.3h0M188.1 378.3h0M159.9 372.1h0M70.8 393.3h0M128.5 455.2h0M142.9 377.7h0M152.2 444.8h0M122.4 463.8h0M179.9 418.4h0M140.7 376.6h0M146.5 441.1h0M148.4 375.9h0M188.7 380.7h0M165.9 372.5h0M156.4 436.2h0M150.3 402.0h0M151.3 440.7h0M159.1 375.5h0M165.9 379.8h0M78.2 409.6h0M173.1 377.6h0M175.0 416.3h0M82.0 389.2h0M185.8 376.6h0M124.0 466.4h0M193.3 380.9h0M179.4 432.8h0M165.0 426.2h0M153.1 464.0h0M158.8 374.4h0M144.8 442.4h0M175.3 423.4h0M152.0 403.0h0M122.6 464.5h0M161.0 431.2h0M194.1 422.7h0M145.5 432.8h0M131.9 443.8h0M187.3 429.0h0M144.8 436.8h0M169.8 371.8h0M77.6 404.1h0M128.4 376.6h0M144.2 435.5h0M145.6 399.7h0M117.6 466.9h0M138.4 382.3h0M161.7 377.2h0M153.0 374.4h0M84.6 398.2h0M171.5 378.5h0M181.7 435.8h0M147.4 445.9h0M168.1 381.3h0M190.7 420.5h0M196.8 381.6h0M120.1 466.7h0M77.6 397.0h0M196.5 377.1h0M164.6 379.3h0M154.6 428.5h0M114.0 463.4h0M159.2 375.5h0M175.6 415.9h0M138.4 442.8h0M106.5 395.9h0M160.1 429.5h0M208.7 381.3h0M194.9 379.4h0M149.0 372.2h0M180.1 420.6h0M79.8 399.3h0M198.6 374.7h0M129.1 445.0h0M198.8 424.6h0M145.9 451.2h0M192.6 377.4h0M155.9 436.3h0M147.0 433.5h0M66.1 400.8h0M73.3 409.5h0M79.5 400.0h0M185.1 381.7h0M166.8 423.3h0M173.7 425.7h0M189.9 424.8h0M165.8 384.7h0M138.9 375.0h0M152.6 430.5h0M141.7 440.4h0M190.9 431.7h0M169.9 417.8h0M161.9 443.3h0M109.8 465.7h0M165.2 428.2h0M133.0 443.6h0M155.2 374.4h0M141.7 375.7h0M69.8 396.6h0M161.1 427.1h0M144.4 373.7h0M166.4 441.4h0M171.4 386.8h0M76.5 396.6h0M168.2 435.9h0M176.4 416.1h0M156.9 374.0h0M163.6 427.1h0M148.3 403.1h0M159.0 424.0h0M186.9 413.3h0M87.7 400.5h0M83.4 398.5h0M143.7 441.5h0M160.8 436.3h0M156.0 375.6h0M189.4 380.8h0M143.8 441.8h0M150.3 439.2h0M171.3 429.6h0M163.2 420.2h0M138.9 380.2h0M151.6 373.4h0M176.0 432.3h0M166.1 420.9h0M152.7 436.2h0M151.6 402.1h0M192.4 375.3h0M136.6 463.8h0M164.6 374.6h0M158.9 452.5h0M133.1 438.7h0M168.2 376.6h0M181.3 375.3h0M202.6 425.0h0M158.8 379.1h0M155.1 426.3h0M148.8 435.5h0M144.3 373.8h0M149.7 374.0h0M195.4 381.4h0M158.5 431.0h0M142.4 439.2h0M169.1 432.9h0M155.8 446.7h0M78.8 405.5h0M71.4 393.1h0M146.7 440.6h0M159.2 435.5h0M154.0 434.7h0M80.8 398.2h0M74.4 394.8h0M93.8 397.6h0M165.1 412.4h0M123.9 465.9h0M84.1 404.7h0M189.0 382.7h0M86.2 391.8h0M141.3 377.9h0M148.6 445.9h0M208.1 385.6h0M154.0 369.6h0M186.8 382.6h0M173.9 421.8h0M123.4 465.2h0M130.8 463.7h0M168.6 435.1h0M147.6 432.8h0M179.9 386.3h0M164.3 436.6h0M162.2 455.6h0M145.2 434.8h0M143.7 429.6h0M162.7 438.1h0M166.6 438.7h0M75.9 398.4h0M80.9 395.2h0M187.7 414.1h0M151.2 404.0h0M160.4 420.8h0M85.6 397.1h0M154.1 399.6h0M75.8 407.1h0M74.0 398.6h0M80.3 394.5h0M158.8 445.4h0M158.4 436.2h0M158.3 439.5h0M76.9 404.4h0M82.5 392.1h0M153.4 437.4h0M149.2 441.7h0M76.1 397.9h0M156.0 438.2h0M169.5 441.1h0M163.2 434.5h0M189.7 378.5h0M184.3 444.5h0M69.0 400.2h0M84.1 395.2h0M158.5 427.1h0M74.8 393.8h0M134.2 461.6h0M142.4 458.5h0M201.4 414.5h0M188.1 415.6h0M151.7 448.5h0M132.6 441.1h0M146.0 382.9h0M161.9 376.5h0M164.9 429.4h0M87.7 400.2h0M170.1 381.9h0M153.3 371.9h0M123.5 460.9h0M69.8 396.6h0M155.9 422.0h0M70.6 392.2h0M79.0 409.3h0M150.7 401.8h0M159.2 431.8h0M146.6 378.1h0M189.3 421.2h0M187.6 375.6h0M141.8 381.2h0M153.9 439.4h0M202.4 384.9h0M141.2 449.6h0M144.7 379.5h0M164.8 423.2h0M175.0 439.5h0M207.6 424.2h0M71.1 401.9h0M151.6 437.1h0M180.1 379.5h0M200.4 419.6h0M204.0 427.7h0M169.7 375.2h0M63.3 405.7h0M151.1 429.9h0M176.4 379.1h0M173.8 380.5h0M162.7 414.4h0M192.7 382.3h0M188.6 425.4h0M154.0 378.4h0M84.9 397.2h0M133.0 462.6h0M153.8 425.5h0M144.6 456.0h0M199.1 431.7h0M86.1 397.9h0M157.6 440.1h0M139.9 445.5h0M157.7 444.2h0M156.9 375.3h0M187.0 388.9h0M137.9 369.9h0M147.5 438.7h0M195.7 431.7h0M136.5 448.1h0M187.4 382.3h0M165.7 435.3h0M191.9 424.4h0M167.8 416.5h0M195.0 386.3h0M132.0 444.5h0M169.8 436.4h0M189.1 417.9h0M61.7 399.4h0M182.0 378.1h0M175.9 430.7h0M90.2 401.3h0M136.7 446.7h0M170.6 418.5h0M148.1 381.0h0M167.6 384.3h0M166.1 375.4h0M160.9 431.6h0M166.3 374.4h0M96.6 393.3h0M161.0 434.0h0M193.0 377.5h0M145.6 437.4h0M165.6 429.8h0M160.0 427.1h0M143.2 445.7h0M153.0 376.5h0M181.9 379.0h0M161.4 382.9h0M188.9 382.1h0M153.7 433.8h0M198.0 430.7h0M155.1 432.3h0M146.7 440.3h0M167.2 387.9h0M73.5 390.2h0M167.9 437.0h0M189.4 388.0h0M93.4 395.6h0M80.7 394.9h0M123.2 462.8h0M135.1 438.3h0M144.5 439.2h0M135.4 441.4h0M197.2 422.5h0M195.4 373.8h0M132.4 373.9h0M147.6 445.0h0M197.7 381.3h0M138.3 434.5h0M202.7 414.7h0M79.6 402.1h0M155.7 443.9h0M144.9 447.6h0M151.8 379.5h0M158.4 379.0h0M164.9 437.3h0M79.4 401.5h0M199.5 427.3h0M193.4 432.3h0M78.9 399.6h0M141.4 380.6h0M163.3 387.5h0M163.0 426.9h0M77.6 393.7h0M188.7 384.4h0M153.3 438.0h0M199.4 424.6h0M153.0 427.9h0M165.0 446.8h0M167.5 443.9h0M190.2 384.5h0M149.2 372.4h0M190.7 420.3h0M120.6 464.3h0M136.2 438.7h0M197.3 379.8h0M137.8 439.8h0M170.7 435.7h0M160.7 378.4h0M147.9 430.5h0M205.7 379.0h0M77.6 402.5h0M71.4 404.5h0M180.1 436.8h0M75.7 396.3h0M82.8 397.7h0M128.6 464.3h0M151.2 427.0h0M194.7 380.9h0M199.9 418.7h0M188.8 422.9h0M151.8 375.0h0M154.8 436.4h0M151.4 446.6h0M111.5 461.8h0M155.6 368.7h0M193.6 423.8h0M152.4 379.2h0M156.6 440.2h0M133.8 380.5h0M65.8 396.7h0M152.2 437.6h0M193.0 376.7h0M145.1 435.1h0M185.0 422.7h0M168.2 416.3h0M72.7 406.6h0M170.5 424.2h0M123.3 465.5h0M79.8 392.8h0M151.3 431.4h0M122.3 460.8h0M83.8 401.8h0M192.5 378.5h0M148.5 439.6h0M187.4 378.7h0M81.5 404.9h0M178.0 417.2h0M146.8 444.3h0M74.7 398.9h0M79.3 394.6h0M157.7 369.7h0M168.1 373.0h0M162.5 379.2h0M195.7 372.6h0M194.7 378.9h0M135.7 441.6h0M181.2 377.3h0M135.9 450.8h0M126.0 462.5h0M166.9 416.3h0M143.3 428.6h0M143.3 462.8h0M188.3 383.0h0M200.8 376.3h0M143.6 374.6h0M194.1 425.5h0M201.7 375.4h0M136.7 432.7h0M201.6 429.5h0M174.3 373.6h0M164.0 382.1h0M82.9 392.9h0M166.9 430.4h0M153.4 436.6h0M173.4 420.5h0M139.8 439.9h0M151.6 373.5h0M188.6 434.3h0M62.0 395.7h0M175.1 386.7h0M74.4 391.5h0M79.4 406.3h0M83.7 401.7h0M144.7 377.5h0M176.3 379.6h0M198.2 419.1h0M162.9 436.0h0M196.1 378.2h0M193.0 424.2h0M158.2 436.3h0M186.9 428.7h0M170.3 432.2h0M103.7 399.8h0M201.7 379.8h0M152.4 429.1h0M166.5 419.9h0M132.6 441.2h0M109.6 398.1h0M162.2 427.3h0M201.2 419.7h0M180.7 384.0h0M82.2 404.5h0M168.3 429.8h0M77.0 404.8h0M79.7 403.1h0M146.6 446.5h0M175.9 420.3h0M194.5 378.8h0M66.9 406.8h0M190.5 376.8h0M156.2 382.3h0M159.6 373.9h0M146.5 403.2h0M159.4 420.6h0M163.6 431.8h0M152.2 445.9h0M125.7 462.8h0M145.7 444.4h0M148.8 443.3h0M160.6 370.8h0M182.4 377.8h0M70.2 401.6h0M148.1 400.1h0M161.8 431.3h0M189.5 382.2h0M176.5 417.2h0M140.3 374.9h0M168.4 437.1h0M143.9 434.7h0M167.5 379.1h0M77.9 400.0h0M196.0 379.8h0M168.6 429.2h0M179.8 422.7h0M66.3 406.7h0M186.0 387.0h0M169.2 427.6h0M73.5 389.1h0M76.7 398.1h0M169.8 421.0h0M209.1 380.2h0M163.7 428.7h0M144.5 377.9h0M66.3 404.2h0M165.7 439.3h0M126.3 445.1h0M165.9 447.4h0M91.2 395.6h0M157.5 438.2h0M86.0 398.6h0M140.0 441.4h0M164.5 377.2h0M154.0 380.2h0M201.8 433.3h0M185.7 379.3h0M186.1 414.1h0M191.2 417.5h0M103.5 397.5h0M155.5 447.5h0M151.4 371.3h0M75.0 395.3h0M112.6 464.5h0M196.2 426.5h0M162.0 433.0h0M171.2 438.8h0M148.2 372.9h0M151.2 402.2h0M113.1 462.8h0M163.1 426.0h0M165.8 375.7h0M82.3 392.3h0M164.8 421.9h0M64.8 402.0h0M79.9 402.1h0M145.5 404.3h0M163.7 434.6h0M121.2 466.4h0M129.4 372.2h0M170.2 380.9h0M79.9 403.5h0M69.6 397.2h0M71.1 398.5h0M109.8 398.2h0M123.6 463.4h0M74.9 391.8h0M144.8 443.5h0M170.8 380.2h0M182.7 378.7h0M183.6 375.7h0M83.9 401.3h0M130.3 445.4h0M147.2 376.3h0M94.7 396.9h0M150.7 441.2h0M134.1 449.6h0M208.6 379.6h0M185.2 385.6h0M194.7 424.8h0M72.6 396.7h0M184.0 379.9h0M113.4 465.9h0M192.8 380.1h0M149.2 370.7h0M171.8 420.9h0M68.4 400.4h0M160.8 380.4h0M152.3 440.8h0M164.1 421.0h0M167.3 432.7h0M180.4 379.9h0M170.5 438.6h0M196.8 379.1h0M138.0 437.7h0M148.2 369.9h0M145.0 375.9h0M153.4 374.1h0M162.7 373.0h0M128.6 441.8h0M195.1 420.5h0M172.0 376.0h0M146.8 373.3h0M63.1 395.1h0M164.4 434.1h0M184.5 383.0h0M158.1 430.3h0M127.8 464.3h0M70.4 395.8h0M72.1 401.0h0M180.0 416.5h0M145.6 428.7h0M194.1 377.3h0M157.4 379.6h0M163.0 425.7h0M182.4 384.8h0M134.2 432.3h0M169.8 383.2h0M136.1 437.7h0M159.8 374.0h0M160.8 381.1h0M197.5 384.4h0M141.1 440.7h0M130.0 461.4h0M147.1 436.9h0M145.2 378.1h0M121.8 460.1h0M140.8 378.1h0M152.9 376.3h0M198.1 417.4h0M190.8 378.6h0M148.2 430.3h0M147.6 369.4h0M158.4 377.6h0M70.0 397.3h0M141.5 376.6h0M172.6 381.6h0M143.0 377.3h0M160.8 449.0h0M139.2 447.4h0M192.0 414.5h0M83.1 400.4h0M143.5 377.7h0M140.5 439.6h0M91.4 395.3h0M187.6 380.9h0M189.0 385.0h0M154.2 400.7h0M142.7 376.0h0M196.5 433.3h0M152.6 378.7h0M118.6 463.6h0M68.4 400.8h0M159.8 374.6h0M132.6 449.1h0M89.4 400.8h0M82.5 403.1h0M138.7 378.8h0M125.4 465.1h0M192.7 387.3h0M175.7 431.8h0M171.8 415.3h0M184.6 418.1h0M88.4 396.9h0M157.8 434.4h0M137.7 443.1h0M165.5 436.7h0M153.5 375.8h0M73.0 404.8h0M146.3 440.8h0M175.5 379.1h0M177.9 430.3h0M135.4 380.8h0M141.7 379.5h0M191.6 424.1h0M196.4 423.4h0M79.2 402.7h0M170.2 380.6h0M156.3 437.6h0M125.0 460.2h0M127.4 440.9h0M178.1 387.2h0M154.6 429.1h0M163.3 426.2h0M141.6 431.7h0M136.7 438.2h0M64.3 403.1h0M197.3 416.4h0M101.3 401.6h0M160.7 417.9h0M148.1 435.5h0M199.3 425.0h0M161.5 439.6h0M190.4 438.2h0M149.2 400.6h0M145.3 451.1h0M154.0 436.2h0M173.7 414.1h0M74.6 406.7h0M195.6 381.0h0M159.7 369.9h0M183.3 378.6h0M159.2 443.9h0M144.6 447.3h0M169.0 434.1h0M146.7 381.4h0M191.3 384.5h0M91.5 394.0h0M161.0 437.7h0M152.5 437.2h0M142.3 466.5h0M150.4 430.4h0M104.5 398.8h0M145.2 441.4h0M163.7 378.9h0M185.3 423.9h0M147.9 450.4h0M148.6 438.7h0M133.8 371.1h0M148.3 426.9h0M152.7 371.9h0M196.9 430.9h0M148.4 445.4h0M136.9 453.0h0M75.3 397.0h0M160.0 376.0h0M81.1 388.8h0M183.8 381.1h0M162.2 428.0h0M127.3 440.0h0M61.9 406.2h0M157.6 423.8h0M134.4 432.8h0M148.8 375.8h0M168.5 430.0h0M143.3 449.3h0M136.6 374.7h0M143.1 381.3h0M185.9 437.8h0M58.0 401.9h0M189.7 384.7h0M165.0 414.4h0M137.1 376.0h0M137.2 372.0h0M189.3 388.5h0M197.3 419.5h0M104.4 399.3h0M75.6 398.2h0M144.3 377.4h0M138.5 435.2h0M145.8 372.0h0M146.4 442.3h0M148.9 376.3h0M194.3 419.0h0M160.3 436.4h0M161.3 432.6h0M78.1 408.0h0M198.5 431.6h0M169.1 374.2h0M159.6 434.7h0M66.3 401.5h0M144.9 436.9h0M169.4 421.1h0M199.5 432.4h0M82.9 393.6h0M171.6 439.1h0M193.5 433.6h0M192.8 417.6h0M159.4 429.7h0M143.9 378.9h0M102.1 397.4h0M90.2 391.8h0M147.7 448.1h0M142.1 429.9h0M145.4 372.8h0M68.8 396.2h0M189.7 436.1h0M143.2 439.7h0M203.3 379.8h0M124.1 463.1h0M156.0 433.8h0M146.8 439.7h0M88.1 394.1h0M165.5 440.6h0M165.7 427.2h0M138.6 444.9h0M81.4 398.9h0M109.0 401.0h0M154.8 441.9h0M79.0 401.8h0M91.1 403.0h0M179.0 428.9h0M67.8 405.5h0M70.5 398.8h0M194.1 375.6h0M84.2 393.7h0M153.5 376.6h0M81.9 400.8h0M152.2 374.5h0M189.4 415.6h0M158.5 371.1h0M74.7 391.0h0M155.5 433.1h0" stroke="rgb(238,152,82)" stroke-width="1.65" stroke-opacity="0.82"/>
<path d="M149.7 451.8h0M148.5 456.1h0M184.3 386.6h0M131.5 452.8h0M97.3 411.9h0M149.7 423.6h0M170.4 381.1h0M152.6 450.9h0M133.8 459.0h0M192.2 428.4h0M193.6 435.3h0M145.3 445.1h0M195.8 432.2h0M174.2 382.3h0M101.8 396.8h0M115.3 466.6h0M147.3 448.2h0M134.3 455.2h0M187.6 442.1h0M139.6 454.7h0M179.4 430.7h0M178.1 386.6h0M188.0 431.3h0M104.4 407.9h0M170.1 436.6h0M143.2 453.6h0M186.5 391.5h0M122.7 454.8h0M154.1 457.9h0M187.8 431.2h0M149.3 456.8h0M106.2 393.8h0M189.7 433.2h0M171.0 445.4h0M151.6 457.7h0M166.2 385.4h0M185.7 440.3h0M129.9 458.6h0M174.4 428.5h0M175.5 419.6h0M97.1 405.5h0M97.5 395.6h0M169.0 431.5h0M142.3 452.4h0M138.0 451.4h0M190.8 434.0h0M184.9 420.9h0M144.3 456.8h0M155.3 455.8h0M176.1 439.8h0M113.3 397.4h0M131.9 461.6h0M137.3 457.9h0M134.8 440.2h0M127.1 463.3h0M102.3 393.0h0M93.9 407.1h0M141.2 449.6h0M185.1 438.9h0M183.9 440.1h0M153.4 445.2h0M187.9 423.8h0M186.8 387.8h0M166.0 453.1h0M171.7 383.0h0M108.9 391.4h0M100.3 408.0h0M94.1 408.2h0M142.1 459.3h0M98.8 400.6h0M146.8 435.8h0M179.2 446.9h0M127.9 457.1h0M134.4 453.2h0M142.5 459.0h0M187.0 442.8h0M101.4 397.8h0M177.8 441.1h0M110.9 394.5h0M104.4 397.3h0M188.8 388.6h0M125.5 455.2h0M120.2 458.6h0M186.3 437.9h0M144.5 456.4h0M180.3 438.4h0M186.2 422.9h0M95.0 411.9h0M188.3 438.2h0M100.5 407.4h0M132.4 460.1h0M178.0 433.1h0M178.9 451.5h0M154.6 449.3h0M158.2 441.2h0M181.8 425.1h0M177.9 446.4h0M106.9 413.3h0M143.9 454.3h0M105.0 393.3h0M151.7 464.6h0M174.5 387.8h0M92.8 410.3h0M159.8 416.8h0M109.5 399.3h0M188.1 436.0h0M102.8 390.8h0M152.6 452.8h0M105.0 408.4h0M137.5 462.5h0M185.7 431.2h0M171.9 443.8h0M174.6 441.3h0M188.2 423.7h0M178.7 391.0h0M148.0 449.9h0M159.6 454.6h0M161.1 450.7h0M177.9 445.9h0M110.3 394.7h0M136.6 451.8h0M127.3 444.1h0M153.9 450.3h0M199.8 417.9h0M166.3 437.7h0M177.5 444.0h0M164.9 446.2h0M142.1 458.0h0M131.9 453.1h0M193.0 436.8h0M141.3 454.7h0M162.4 450.1h0M193.6 435.1h0M145.0 450.6h0M100.8 417.4h0M191.8 390.3h0M197.5 429.8h0M193.2 446.5h0M185.3 440.1h0M129.6 464.2h0M185.0 437.7h0M88.0 403.1h0M130.6 466.5h0M184.2 389.7h0M110.6 390.2h0M167.3 434.1h0M133.3 454.9h0M173.6 458.2h0M193.7 429.4h0M186.0 440.7h0M187.5 427.6h0M168.3 452.3h0M183.4 441.3h0M133.3 455.3h0M185.9 435.9h0M170.0 446.9h0M94.4 397.3h0M97.9 404.1h0M185.5 383.7h0M159.3 452.7h0M191.8 386.9h0M151.3 447.7h0M175.1 429.9h0M200.7 427.0h0M144.9 454.1h0M184.2 426.2h0M149.6 453.1h0M186.7 439.4h0M194.9 430.5h0M141.1 450.3h0M151.6 453.0h0M99.7 391.3h0M170.4 386.4h0M167.5 418.6h0M173.0 391.6h0M99.7 408.9h0M96.5 396.7h0M183.5 438.0h0M176.7 437.9h0M137.5 449.5h0M179.0 441.8h0M156.1 451.3h0M186.2 442.6h0M203.2 420.6h0M177.7 441.4h0M135.8 453.4h0M102.8 390.1h0M167.8 447.7h0M179.0 451.9h0M114.2 397.7h0M172.7 387.9h0M111.6 387.8h0M109.4 389.1h0M99.0 411.3h0M132.5 458.2h0M186.3 421.4h0M170.2 386.5h0M177.8 384.1h0M137.1 460.5h0M102.0 406.7h0M167.8 444.8h0M187.5 442.2h0M169.3 445.0h0M197.2 384.5h0M172.2 445.7h0M182.3 427.4h0M146.0 452.9h0M173.4 414.7h0M200.8 388.6h0M104.1 396.3h0M180.6 444.4h0M172.8 390.8h0M134.4 452.2h0M192.8 425.8h0M182.3 437.6h0M191.1 429.1h0M120.8 464.3h0M185.4 438.7h0M126.7 466.3h0M138.9 455.5h0M134.1 456.0h0M108.5 395.5h0M151.8 447.6h0M138.4 454.4h0M179.6 433.3h0M130.0 457.7h0M147.4 455.9h0M136.6 465.1h0M187.4 447.3h0M184.7 427.5h0M140.1 455.1h0M128.3 456.3h0M172.7 390.3h0M135.9 459.1h0M121.8 454.1h0M152.6 458.2h0M175.1 432.0h0M162.5 448.4h0M153.8 448.4h0M139.3 458.7h0M135.0 453.8h0M143.2 449.5h0M181.1 441.8h0M160.0 458.2h0M144.7 453.9h0M108.4 396.1h0M100.2 400.3h0M183.9 388.0h0M147.7 448.3h0M152.8 445.7h0M188.7 444.0h0M133.7 467.6h0M111.3 394.4h0M159.7 456.8h0M187.8 444.9h0M98.9 394.9h0M181.4 440.4h0M194.9 436.7h0M137.7 461.1h0M176.0 384.3h0M108.3 393.1h0M145.2 456.4h0M190.9 388.7h0M181.4 437.1h0M102.4 401.3h0M174.1 431.7h0M151.8 448.3h0M108.2 395.4h0M158.1 450.8h0M192.4 433.4h0M191.6 435.7h0M177.7 428.8h0M184.9 445.9h0M138.0 459.4h0M125.6 467.0h0M112.2 398.0h0M176.2 429.9h0M173.0 390.1h0M180.7 418.3h0M174.7 391.4h0M106.9 401.4h0M191.2 427.2h0M169.5 440.7h0M134.8 447.7h0M191.4 435.3h0M180.1 440.1h0M180.0 443.8h0M141.9 458.3h0M106.4 396.7h0M168.6 451.7h0M178.7 427.5h0M168.5 455.1h0M145.7 457.6h0M188.7 443.7h0M136.8 453.9h0M185.0 433.1h0M144.8 461.1h0M95.1 412.3h0M178.3 441.7h0M186.6 418.7h0M191.7 442.6h0M104.6 397.6h0M187.0 387.0h0M177.5 384.6h0M102.2 398.7h0M141.5 460.2h0M92.1 405.1h0M94.4 409.8h0M188.3 437.0h0M118.6 387.2h0M180.4 445.9h0M177.0 420.6h0M183.8 451.6h0M139.6 459.8h0M115.9 461.4h0M199.1 426.4h0M124.5 458.6h0M140.4 446.1h0M186.5 429.7h0M198.0 428.5h0M185.7 385.1h0M99.2 399.5h0M190.6 389.2h0M170.8 454.8h0M107.0 392.9h0M94.0 410.1h0M165.5 421.1h0M180.9 428.4h0M142.8 448.1h0M139.6 447.4h0M135.5 456.8h0M198.2 384.8h0M104.2 392.5h0M187.6 426.4h0M143.7 453.6h0M186.1 424.6h0M173.8 423.0h0M189.4 418.1h0M170.6 427.8h0M143.4 454.8h0M181.4 443.5h0M114.1 391.1h0M192.9 382.4h0M129.5 460.2h0M103.5 396.6h0M200.7 439.8h0M133.9 444.4h0M152.4 455.2h0M138.0 440.0h0M91.4 403.3h0M182.7 431.2h0M142.6 449.1h0M145.8 446.8h0M190.9 384.7h0M139.8 455.9h0M190.5 387.5h0M204.0 434.6h0M96.8 404.5h0M104.6 410.9h0M191.9 432.7h0M153.0 458.2h0M199.8 430.4h0M97.5 409.7h0M118.1 388.4h0M157.2 453.3h0M173.0 439.5h0M188.7 421.0h0M148.7 452.4h0M183.6 425.8h0M171.8 448.1h0M112.2 390.4h0M140.8 461.1h0M169.3 447.8h0M195.6 435.8h0M132.7 460.8h0M149.4 450.7h0M142.2 447.0h0M163.5 422.4h0M127.1 456.8h0M191.8 431.8h0M186.2 441.3h0M156.5 452.7h0M172.0 435.0h0M103.1 390.1h0M189.7 389.0h0M184.2 424.6h0M173.8 385.3h0M173.1 425.1h0M179.9 443.6h0M180.8 438.6h0M132.6 457.1h0M200.0 435.3h0M140.4 450.8h0M180.0 438.3h0M106.1 393.1h0M184.6 423.1h0M96.5 407.3h0M186.9 436.7h0M111.5 395.1h0M176.3 431.8h0M182.5 431.3h0M182.3 427.8h0M179.3 384.9h0M184.9 384.1h0M172.9 431.3h0M120.2 465.5h0M125.6 466.3h0M162.0 443.9h0M175.5 426.9h0M180.5 384.9h0M153.0 457.0h0M184.0 391.6h0M136.4 461.6h0M100.3 406.4h0M96.3 407.2h0M185.8 387.4h0M191.7 446.4h0M185.8 430.6h0M142.9 454.5h0M151.7 444.4h0M182.1 430.9h0M169.9 446.6h0M164.0 430.2h0M106.8 390.8h0M131.6 461.1h0M176.6 426.2h0M169.4 388.6h0M191.9 422.6h0M188.1 428.5h0M182.4 386.0h0M178.6 388.5h0M104.3 413.3h0M99.5 396.9h0M183.6 442.9h0M148.7 459.9h0M172.1 443.7h0M182.5 385.3h0M180.3 450.6h0M194.1 431.2h0M136.4 451.9h0M99.1 414.4h0M177.3 454.0h0M191.9 388.0h0M159.7 457.0h0M195.3 427.4h0M147.1 460.3h0M174.1 446.3h0M179.0 453.6h0M142.5 452.9h0M181.1 443.2h0M195.2 441.2h0M186.8 446.1h0M147.1 464.7h0M179.4 392.3h0M144.5 450.6h0M155.5 451.3h0M198.7 426.8h0M157.3 459.5h0M158.4 416.6h0M166.0 438.5h0M133.2 460.8h0M154.4 431.6h0M151.4 457.6h0M180.4 389.5h0M119.1 450.1h0M142.0 448.4h0M189.4 386.9h0M158.3 425.2h0M133.1 448.9h0M167.0 390.1h0M179.5 432.6h0M189.7 438.5h0M146.1 448.3h0M133.2 454.4h0M174.8 441.0h0M165.4 382.0h0M177.3 438.4h0M101.7 389.3h0M94.5 397.5h0M186.0 440.2h0M183.8 437.3h0M173.0 442.3h0M179.3 430.6h0M188.3 392.4h0M152.2 446.8h0M132.9 457.9h0M136.6 457.0h0M192.7 385.1h0M88.1 413.7h0M152.0 449.8h0M176.4 430.7h0M184.4 442.5h0M179.1 449.4h0M192.4 425.3h0M138.3 453.4h0M184.9 432.5h0M198.9 429.5h0M172.7 429.7h0M182.5 450.3h0M94.1 406.6h0M151.6 454.9h0M178.5 420.0h0M199.2 420.8h0M183.4 388.8h0M125.4 460.7h0M108.6 389.6h0M172.4 422.9h0M174.3 386.2h0M157.0 444.9h0M136.4 454.6h0M129.2 445.3h0M141.1 451.2h0M190.2 431.0h0M194.8 433.4h0M137.8 461.1h0M176.6 446.3h0M129.9 457.8h0M172.8 447.9h0M143.3 444.4h0M166.5 436.8h0M196.0 426.0h0M188.2 442.5h0M191.2 437.7h0M179.2 387.3h0M100.4 400.3h0M107.8 410.8h0M113.1 394.0h0M168.0 384.7h0M187.5 423.3h0M197.1 431.2h0M179.3 425.9h0M183.5 424.3h0M190.3 430.6h0M183.5 425.4h0M179.1 419.6h0M187.1 440.7h0M174.1 435.3h0M139.8 457.5h0M118.5 464.2h0M178.2 439.3h0M147.8 460.6h0M169.1 436.6h0M179.5 441.3h0M139.7 454.2h0M173.5 440.8h0M100.4 417.1h0M151.5 458.5h0M131.2 457.9h0M198.2 424.5h0M157.2 448.2h0M98.8 411.2h0M137.8 452.0h0M191.1 416.3h0M184.3 438.4h0M164.5 420.1h0M151.5 441.2h0M136.6 451.4h0M153.1 453.3h0M185.7 389.9h0M179.4 429.5h0M149.1 454.8h0M115.8 463.9h0M174.4 387.4h0M169.3 446.7h0M170.0 445.2h0M100.3 394.8h0M177.7 390.2h0M164.0 456.0h0M93.1 399.6h0M153.8 448.9h0M170.1 448.0h0M186.4 427.8h0M134.3 459.1h0M131.4 455.4h0M165.5 459.7h0M158.3 451.8h0M175.0 452.6h0M140.4 454.8h0M186.0 432.6h0M172.8 426.4h0M196.3 421.0h0M159.5 449.6h0M167.4 383.6h0M132.1 465.2h0M173.4 427.4h0M182.6 428.6h0M131.3 456.9h0M93.5 410.3h0M181.7 391.7h0M104.6 391.9h0M161.2 447.5h0M139.2 448.5h0M143.6 462.9h0M98.8 408.0h0M103.2 399.1h0M168.2 383.9h0M173.8 442.9h0M169.3 444.1h0M192.4 443.6h0M174.7 389.3h0M155.1 418.3h0M134.1 455.6h0M169.8 385.7h0M169.4 389.8h0M113.6 391.0h0M177.0 420.2h0M174.6 439.9h0M98.4 407.6h0M168.3 447.9h0M137.3 459.4h0M187.5 422.5h0M200.9 436.6h0M140.7 451.3h0M187.2 425.8h0M190.8 386.0h0M165.4 390.5h0M197.1 433.9h0M202.6 421.1h0M142.3 452.0h0M126.4 467.1h0M107.1 391.4h0M180.8 385.4h0M200.3 383.1h0M153.5 448.8h0M171.2 449.0h0M188.0 389.1h0M99.3 410.7h0M148.4 432.8h0M193.9 388.1h0M156.3 453.0h0M182.5 389.2h0M161.5 455.8h0M179.4 383.5h0M186.5 439.8h0M127.8 461.1h0M144.8 431.5h0M184.8 389.6h0M158.4 451.4h0M157.4 448.6h0M94.4 405.5h0M111.4 391.3h0M165.8 453.8h0M182.0 390.9h0M126.8 462.4h0M198.9 432.8h0M170.5 446.9h0M187.5 437.3h0M121.8 463.6h0M130.8 464.7h0M164.6 444.2h0M190.6 423.2h0M189.0 389.4h0M92.5 402.6h0M182.8 424.4h0M180.5 386.7h0M170.8 390.4h0M170.8 452.6h0M190.4 431.7h0M193.8 445.1h0M203.4 432.3h0M96.2 403.8h0M186.6 442.3h0M110.7 395.9h0M155.2 456.5h0M178.2 449.6h0M106.1 392.3h0M169.7 423.5h0M89.4 409.4h0M143.9 454.1h0M111.4 386.9h0M113.8 392.1h0M176.2 437.6h0M150.0 424.4h0M98.6 400.4h0M139.6 456.7h0M190.0 447.9h0M98.3 405.3h0M196.8 426.4h0M99.0 400.8h0M188.2 383.8h0M163.5 427.4h0M136.8 451.9h0M126.2 465.7h0M138.6 454.6h0M128.2 458.5h0M158.4 452.6h0M176.6 441.9h0M108.5 394.5h0M102.0 398.5h0M148.9 451.7h0M138.6 466.5h0M175.1 444.4h0M130.8 458.8h0M144.0 446.7h0M176.8 434.9h0M180.7 442.8h0M188.5 428.0h0M158.6 460.0h0M188.9 425.1h0M195.0 438.8h0M125.3 456.0h0M165.6 415.8h0M137.5 458.3h0M190.6 428.8h0M154.1 450.5h0M98.3 415.6h0M152.1 450.5h0M149.3 459.3h0M167.9 446.9h0M110.2 393.8h0M188.6 441.9h0M150.8 448.9h0M100.3 404.6h0M183.2 426.4h0M102.5 397.9h0M145.5 455.4h0M185.0 439.7h0M104.1 398.2h0M142.6 432.2h0M180.4 446.7h0M123.5 454.1h0M129.2 462.2h0M121.8 467.4h0M152.4 451.7h0M179.7 386.2h0M172.3 385.5h0M203.6 388.4h0M103.0 388.0h0M183.5 384.1h0M109.4 398.5h0M104.4 405.6h0M140.7 451.0h0M192.6 431.8h0M161.1 445.9h0M156.0 448.9h0M182.0 387.7h0M186.3 444.6h0M162.7 439.7h0M176.1 441.0h0M110.8 391.6h0M137.3 454.2h0M180.8 446.3h0M173.4 432.0h0M177.0 387.6h0M187.6 385.5h0M149.4 426.2h0M192.6 424.0h0M169.8 443.9h0M191.4 388.0h0M188.5 443.7h0M104.7 394.1h0M186.8 386.8h0M149.3 448.3h0M98.0 395.5h0M111.9 393.3h0M182.4 448.7h0M145.4 451.4h0M186.6 450.2h0M189.9 387.1h0M148.2 449.9h0M97.9 396.8h0M137.9 454.4h0M200.0 421.7h0M131.7 462.0h0M159.9 444.0h0M184.0 443.6h0M143.2 457.1h0M162.6 448.4h0M165.8 385.2h0M154.1 453.5h0M184.1 442.5h0M179.3 420.1h0M183.0 424.6h0M121.1 462.6h0M179.1 447.0h0M114.6 458.0h0M187.1 391.8h0M111.5 394.1h0M91.6 409.6h0M201.6 382.2h0M174.1 433.3h0M192.9 421.1h0M101.0 394.9h0M142.0 453.3h0M103.8 393.4h0M144.3 453.1h0M97.9 411.9h0M110.6 394.6h0M144.3 459.5h0M95.0 407.1h0M164.6 454.9h0M186.3 422.7h0M197.5 386.2h0M165.2 443.8h0M180.1 448.5h0M179.3 388.3h0M180.4 434.5h0M158.6 448.7h0M96.4 414.0h0M183.3 392.1h0M188.3 437.0h0M170.1 437.0h0M172.5 454.5h0M97.7 408.0h0M168.4 384.1h0M188.3 439.7h0M149.5 451.1h0M167.6 386.4h0M181.0 432.6h0M167.2 445.9h0M182.3 445.5h0M132.9 457.1h0M157.8 386.4h0M167.5 392.3h0M181.3 443.1h0M121.6 466.7h0M178.7 390.4h0M129.7 467.1h0M93.5 417.7h0M117.4 390.8h0M95.0 410.2h0M168.7 384.8h0M109.2 397.3h0M180.6 424.4h0M157.3 452.0h0M136.7 453.0h0M132.1 448.0h0M100.2 392.1h0M124.4 451.9h0M120.4 459.3h0M88.8 403.1h0M164.4 444.3h0M139.6 457.4h0M178.0 440.8h0M135.2 434.0h0M193.6 429.6h0" stroke="rgb(105,148,215)" stroke-width="1.65" stroke-opacity="0.82"/>
<path d="M166.8 456.4h0M120.2 463.0h0M151.9 428.7h0M148.1 379.1h0M79.8 403.6h0M71.8 404.0h0M122.3 464.6h0M182.5 371.2h0M148.0 454.7h0M154.1 441.7h0M173.5 435.1h0M168.8 436.7h0M110.3 465.0h0M74.5 392.7h0M203.7 374.5h0M135.7 380.1h0M183.9 384.4h0M159.4 429.9h0M161.6 458.9h0M144.1 438.9h0M192.9 377.9h0M89.8 395.0h0M149.7 435.8h0M166.7 376.9h0M187.8 380.1h0M75.5 395.0h0M168.7 438.1h0M171.6 438.4h0M99.9 400.5h0M149.2 401.1h0M153.6 448.5h0M194.4 388.4h0M193.5 417.3h0M184.0 422.9h0M158.2 435.5h0M169.9 374.3h0M202.6 427.4h0M182.7 420.3h0M145.6 442.8h0M149.3 372.8h0M183.8 378.9h0M192.5 422.8h0M161.2 422.6h0M187.8 379.7h0M167.7 428.5h0M176.9 427.2h0M143.1 373.2h0M174.4 436.3h0M77.4 400.8h0M166.5 415.5h0M144.9 437.7h0M154.3 429.3h0M75.1 400.0h0M200.4 384.8h0M154.1 445.6h0M171.0 375.0h0M186.2 421.8h0M160.0 379.9h0M166.3 424.6h0M170.0 381.0h0M144.0 441.7h0M149.7 371.1h0M64.1 404.1h0M85.6 396.3h0M192.7 372.9h0M146.5 437.1h0M116.0 460.9h0M101.1 394.8h0M174.7 382.0h0M169.3 442.4h0M193.0 439.7h0M196.8 425.6h0M168.5 377.5h0M70.2 396.0h0M167.4 427.4h0M155.0 438.6h0M131.9 436.1h0M184.0 373.3h0M177.2 415.1h0M168.3 378.1h0M123.2 463.1h0M71.0 401.8h0M79.1 402.6h0M204.4 382.5h0M78.0 396.5h0M140.4 434.3h0M197.8 380.7h0M165.3 382.7h0M120.5 460.4h0M149.5 435.8h0M148.3 441.9h0M161.4 417.4h0M159.8 434.5h0M160.2 375.2h0M127.1 465.2h0M204.0 428.8h0M156.2 436.5h0M188.1 421.3h0M164.8 438.4h0M179.5 378.4h0M169.9 379.1h0M161.4 439.8h0M189.8 429.6h0M199.5 379.8h0M196.7 424.8h0M167.5 418.4h0M81.9 403.6h0M80.1 396.2h0M116.1 464.0h0M185.2 419.8h0M152.6 438.7h0M156.6 370.6h0M150.7 441.0h0M79.2 401.7h0M89.1 391.4h0M154.8 376.8h0M180.8 417.5h0M177.7 434.5h0M82.9 407.1h0M142.6 435.1h0M186.9 418.0h0M185.2 378.5h0M184.6 383.3h0M181.4 417.5h0M142.3 373.1h0M195.5 377.1h0M194.4 383.5h0M139.7 376.4h0M147.5 375.5h0M125.3 463.7h0M158.6 442.7h0M140.2 437.3h0M142.8 430.8h0M150.7 376.0h0M162.0 418.3h0M146.1 402.9h0M167.5 380.5h0M206.3 431.5h0M194.0 431.3h0M179.9 379.4h0M191.3 381.6h0M189.9 423.1h0M140.7 376.5h0M142.8 443.4h0M145.8 379.7h0M155.2 459.0h0M141.7 443.2h0M159.0 441.4h0M112.4 397.2h0M127.4 459.3h0M135.3 438.4h0M152.4 431.9h0M192.1 414.6h0M176.5 435.9h0M146.0 370.9h0M139.7 438.8h0M146.4 438.7h0M188.1 419.5h0M144.7 450.0h0M144.4 428.5h0M126.2 376.4h0M161.9 375.8h0M106.6 395.9h0M86.0 393.7h0M194.6 385.9h0M199.1 426.0h0M143.4 373.2h0M162.1 426.2h0M193.0 419.9h0M78.8 400.2h0M147.0 432.1h0M119.9 463.6h0M196.7 384.2h0M191.0 385.9h0M200.6 423.1h0M201.0 382.4h0M118.8 465.7h0M174.3 431.9h0M165.2 381.7h0M165.0 430.6h0M174.7 418.6h0M168.1 372.1h0M150.1 401.8h0M189.5 378.5h0M145.1 442.6h0M177.9 411.3h0M158.3 427.2h0M142.9 461.3h0M140.5 440.0h0M156.5 433.8h0M122.9 463.4h0M83.2 405.3h0M148.3 439.8h0M187.1 378.3h0M156.5 403.3h0M194.8 423.1h0M65.8 399.8h0M63.4 405.7h0M156.4 435.7h0M139.4 373.3h0M192.7 417.6h0M157.7 379.3h0M157.5 370.7h0M159.0 375.8h0M77.1 398.5h0M134.0 446.6h0M165.1 433.8h0M183.8 375.8h0M120.9 465.5h0M155.1 380.3h0M75.3 400.1h0M144.9 375.0h0M205.2 423.5h0M72.7 395.0h0M175.6 435.8h0M142.8 431.1h0M178.7 419.4h0M136.8 436.4h0M171.6 431.0h0M192.5 420.6h0M198.2 427.0h0M140.4 374.5h0M159.3 431.9h0M181.9 417.7h0M138.2 450.1h0M191.8 420.7h0M120.0 466.2h0M76.8 403.8h0M73.5 396.4h0M174.4 439.2h0M78.1 392.8h0M169.5 423.0h0M199.3 431.4h0M198.5 426.6h0M155.0 437.0h0M83.5 390.3h0M157.3 439.2h0M162.0 383.4h0M194.0 380.4h0M129.2 374.2h0M90.9 395.0h0M164.4 382.1h0M199.6 427.8h0M160.4 450.3h0M188.0 381.0h0M77.2 395.3h0M73.6 398.8h0M80.5 397.6h0M84.5 395.5h0M167.0 420.8h0M163.2 380.8h0M68.5 399.4h0M168.4 437.8h0M137.5 437.2h0M118.2 452.1h0M164.0 441.3h0M146.2 381.1h0M146.1 439.0h0M165.9 425.9h0M158.0 368.7h0M204.1 379.8h0M164.6 432.4h0M142.0 432.5h0M175.1 387.1h0M88.5 397.1h0M193.0 380.4h0M152.7 400.9h0M142.1 371.7h0M160.2 418.6h0M181.3 419.8h0M145.9 439.4h0M180.2 377.6h0M145.4 436.7h0M203.5 425.6h0M88.5 392.3h0M140.4 439.2h0M153.8 429.9h0M162.7 378.2h0M157.0 434.2h0M175.6 429.8h0M158.7 432.6h0M156.0 376.4h0M190.9 383.6h0M68.0 396.4h0M204.4 418.3h0M194.2 379.7h0M182.1 381.3h0M185.1 435.5h0M150.9 377.1h0M79.8 401.8h0M150.9 447.9h0M143.1 443.0h0M172.7 425.8h0M98.9 400.9h0M148.9 433.6h0M174.5 381.4h0M146.9 403.4h0M186.6 412.1h0M137.6 372.8h0M71.4 410.0h0M143.5 443.2h0M145.9 382.6h0M142.1 377.5h0M153.3 398.9h0M192.7 425.4h0M138.7 373.4h0M78.1 400.7h0M195.0 426.0h0M68.7 400.1h0M162.1 373.3h0M145.6 373.8h0M161.8 441.1h0M134.2 371.3h0M177.5 420.3h0M159.0 373.6h0M145.0 431.0h0M198.2 386.0h0M146.2 429.0h0M154.8 375.6h0M150.6 435.2h0M206.3 376.7h0M154.4 376.5h0M147.5 433.4h0M171.4 436.8h0M146.9 444.7h0M161.4 434.3h0M87.9 398.4h0M144.6 370.6h0M181.8 418.7h0M70.7 391.9h0M80.1 398.2h0M72.2 400.0h0M152.8 400.1h0M129.3 460.2h0M194.6 420.0h0M139.4 446.6h0M153.4 434.8h0M185.9 441.0h0M147.6 444.3h0M74.2 399.8h0M172.3 432.7h0M144.6 372.5h0M138.8 446.3h0M135.0 446.3h0M155.9 373.5h0M149.2 376.2h0M134.5 448.1h0M179.6 418.7h0M132.4 378.8h0M155.6 374.9h0M141.4 429.6h0M178.2 415.9h0M170.3 432.2h0M160.8 434.1h0M144.9 372.2h0M167.8 373.5h0M76.8 400.3h0M193.2 377.5h0M68.6 398.0h0M176.5 449.3h0M93.9 393.0h0M161.9 422.7h0M152.3 374.8h0M173.7 422.9h0M169.4 427.3h0M144.7 439.0h0M77.7 397.7h0M93.5 400.5h0M151.6 438.0h0M173.0 421.3h0M193.7 428.3h0M173.7 435.3h0M199.9 429.6h0M189.3 375.7h0M207.5 430.3h0M114.0 468.6h0M153.5 438.5h0M161.2 434.4h0M142.1 432.5h0M183.1 434.0h0M129.9 465.8h0M110.7 398.0h0M155.0 451.0h0M132.8 464.7h0M192.9 423.8h0M180.7 374.9h0M188.5 372.5h0M69.2 398.7h0M159.1 433.4h0M137.4 441.8h0M161.6 432.5h0M139.5 438.2h0M168.0 434.8h0M176.9 419.8h0M159.7 434.0h0M147.9 372.5h0M162.9 434.9h0M160.1 424.6h0M181.1 386.7h0M85.4 395.9h0M168.8 446.0h0M73.8 404.9h0M163.7 438.5h0M159.9 374.7h0M197.4 380.3h0M196.7 420.4h0M171.8 418.0h0M81.6 403.2h0M187.3 383.0h0M82.5 398.3h0M139.7 380.7h0M175.1 428.8h0M153.4 403.5h0M167.2 372.0h0M161.9 430.4h0M184.2 420.5h0M132.1 450.1h0M199.1 374.8h0M141.2 437.0h0M66.8 398.5h0M148.8 438.0h0M170.7 377.8h0M191.8 422.4h0M78.5 400.9h0M161.9 422.2h0M79.4 406.5h0M137.4 463.3h0M204.2 430.2h0M170.6 441.0h0M174.0 378.5h0M138.9 442.5h0M142.8 378.1h0M149.0 436.0h0M72.9 395.1h0M186.1 378.9h0M173.4 434.1h0M201.5 383.8h0M176.0 422.0h0M185.5 382.0h0M161.2 425.6h0M177.8 431.7h0M171.7 419.1h0M88.2 401.8h0M153.3 371.2h0M161.9 374.1h0M168.6 430.6h0M204.4 419.9h0M158.1 435.0h0M193.1 379.3h0M146.4 431.9h0M155.5 431.4h0M66.1 396.7h0M201.7 379.1h0M177.0 386.2h0M190.9 380.8h0M180.7 377.9h0M147.2 398.4h0M199.3 428.7h0M156.0 438.3h0M146.4 439.0h0M196.2 379.2h0M190.6 415.3h0M169.7 422.4h0M167.7 441.5h0M197.6 375.5h0M85.8 404.2h0M170.0 413.1h0M168.1 382.2h0M164.4 446.1h0M150.7 442.8h0M122.6 465.7h0M192.8 417.9h0M199.5 422.3h0M194.2 379.9h0M162.2 369.7h0M156.6 373.2h0M144.0 436.8h0M157.5 432.9h0M149.3 445.7h0M61.8 398.5h0M178.8 416.7h0M85.0 389.4h0M158.3 377.8h0M175.7 416.8h0M204.6 388.0h0M163.9 415.6h0M183.6 423.2h0M69.6 395.7h0M200.0 379.6h0M186.2 425.0h0M67.8 395.6h0M142.8 376.1h0M72.0 394.8h0M172.4 383.0h0M189.6 383.1h0M165.3 430.9h0M82.9 408.1h0M159.0 428.1h0M153.2 435.7h0M70.8 397.6h0M131.0 452.0h0M120.2 461.9h0M151.7 399.6h0M142.7 433.2h0M76.9 394.8h0M166.5 385.1h0M86.4 396.4h0M160.3 370.1h0M71.3 407.8h0M171.1 429.3h0M142.4 445.3h0M86.9 396.1h0M191.6 417.1h0M183.7 451.1h0M201.0 377.0h0M166.6 431.3h0M191.3 425.5h0M153.1 434.2h0M192.9 383.0h0M163.5 429.2h0M193.6 385.4h0M146.8 378.8h0M147.3 432.1h0M137.7 453.4h0M148.4 433.3h0M165.2 376.4h0M171.5 426.5h0M82.4 398.7h0M153.7 375.3h0M173.1 383.9h0M196.2 386.6h0M155.2 444.3h0M134.4 446.9h0M114.3 458.8h0M164.3 421.1h0M75.9 399.3h0M65.1 408.4h0M179.1 383.0h0M153.8 433.8h0M148.2 373.4h0M175.2 388.3h0M151.4 375.3h0M185.8 421.8h0M201.4 424.5h0M204.1 432.4h0M169.5 419.3h0M80.0 397.9h0M140.8 431.0h0M73.4 408.0h0M140.0 441.5h0M187.9 422.0h0M151.1 439.1h0M140.9 442.4h0M161.5 431.1h0M103.0 400.9h0M65.0 397.5h0M165.4 376.8h0M139.8 434.9h0M83.6 400.3h0M147.2 373.6h0M151.0 431.5h0M184.0 378.4h0M147.1 400.3h0M155.8 433.0h0M67.8 392.0h0M153.5 433.7h0M161.8 375.1h0M157.1 440.5h0M152.7 374.0h0M141.4 458.9h0M133.2 436.5h0M147.5 402.0h0M144.2 431.5h0M178.6 418.5h0M146.8 444.8h0M187.5 383.0h0M201.1 426.5h0M161.5 376.9h0M177.5 377.6h0M161.2 427.6h0M144.1 378.0h0M190.4 377.0h0M198.5 427.9h0M154.6 434.7h0M145.8 466.0h0M86.3 396.4h0M76.8 394.8h0M199.6 379.0h0M174.6 436.9h0M66.7 398.1h0M156.1 426.8h0M149.9 438.3h0M160.6 380.5h0M144.7 437.3h0M139.8 441.0h0M199.6 430.5h0M170.3 427.6h0M184.9 370.3h0M200.3 375.7h0M168.6 374.3h0M137.2 376.4h0M136.6 433.3h0M82.8 402.8h0M175.5 421.6h0M209.5 421.0h0M116.6 465.8h0M154.6 375.1h0M79.6 397.8h0M162.6 423.6h0M164.0 375.5h0M98.9 400.2h0M195.1 423.4h0M180.2 413.6h0M197.6 427.9h0M182.1 417.1h0M174.2 456.0h0M150.4 441.2h0M147.8 373.0h0M160.4 425.3h0M139.1 443.3h0M150.0 382.1h0M77.6 402.4h0M165.4 430.6h0M187.3 422.8h0M174.4 428.4h0M149.2 371.0h0M82.2 399.4h0M73.2 403.2h0M164.9 387.2h0M140.0 434.8h0M146.8 436.4h0M143.3 371.5h0M165.1 376.4h0M73.1 394.4h0M71.3 401.1h0M88.5 397.9h0M157.6 376.9h0M67.6 399.8h0M139.1 435.4h0M137.9 375.1h0M188.5 380.8h0M154.4 402.6h0M171.4 383.5h0M81.7 393.5h0M165.0 454.0h0M82.1 395.2h0M145.9 454.5h0M84.7 401.8h0M145.0 432.1h0M154.5 428.6h0M147.9 399.8h0M189.5 385.1h0M149.2 431.1h0M73.5 403.1h0M192.4 377.1h0M71.8 395.0h0M158.1 380.9h0M204.4 427.3h0M188.4 411.3h0M75.4 399.2h0M167.4 379.8h0M167.0 428.4h0M154.8 436.0h0M127.3 448.6h0M193.5 422.7h0M202.9 425.2h0M201.1 380.5h0M75.6 399.7h0M177.1 416.1h0M140.9 433.5h0M145.5 376.7h0M153.8 432.5h0M140.1 372.4h0M126.6 449.0h0M200.3 382.0h0M86.6 400.8h0M75.3 407.2h0M175.7 416.7h0M145.8 372.2h0M164.2 426.3h0M111.5 467.8h0M136.9 446.4h0M139.4 438.5h0M183.7 421.3h0M160.2 376.6h0M173.8 437.2h0M148.3 398.8h0M147.6 380.7h0M185.6 375.6h0M146.4 379.1h0M122.0 449.0h0M176.6 434.8h0M164.7 424.9h0M196.0 425.2h0M203.1 381.0h0M146.5 430.7h0M170.7 445.3h0M140.4 438.3h0M145.2 440.1h0M142.0 435.9h0M155.2 374.9h0M147.5 443.1h0M156.1 424.0h0M80.7 403.5h0M151.5 380.1h0M159.4 429.8h0M144.2 447.3h0M157.3 419.5h0M205.1 420.6h0M158.9 432.5h0M149.9 379.8h0M180.4 440.0h0M169.9 424.6h0M153.5 446.5h0M180.9 379.0h0M175.2 429.8h0M159.4 442.3h0M152.2 376.1h0M183.2 375.3h0M181.7 421.6h0M177.3 416.4h0M177.7 428.6h0M134.2 439.6h0M157.4 438.2h0M193.7 420.1h0M73.3 397.7h0M164.5 427.8h0M151.5 423.7h0M148.9 373.3h0M98.0 397.3h0M118.4 464.3h0M176.0 382.2h0M190.8 382.8h0M173.7 417.8h0M64.0 401.5h0M145.0 377.9h0M149.7 371.3h0M153.3 431.6h0M139.6 374.6h0M72.7 399.3h0M137.5 438.6h0M160.6 432.2h0M185.1 415.1h0M163.1 424.6h0M126.3 459.1h0M196.6 433.5h0M185.2 377.8h0M143.1 433.6h0M190.1 373.9h0M182.8 384.9h0M151.2 372.8h0M137.1 436.7h0M199.3 377.6h0M145.3 432.1h0M190.5 410.4h0M82.5 399.7h0M113.7 462.5h0M188.3 378.2h0M174.5 417.6h0M106.7 402.1h0M155.0 375.2h0M183.4 418.5h0M157.2 373.3h0M156.1 430.5h0M146.0 377.6h0M76.6 401.3h0M171.6 374.9h0M175.2 374.7h0M169.5 433.0h0M71.9 399.2h0M78.7 399.0h0M193.4 385.1h0M149.2 402.5h0M63.5 399.9h0M152.2 376.9h0M169.8 419.6h0M179.6 379.1h0M175.5 425.6h0M164.9 436.6h0M152.5 434.9h0M149.0 436.0h0M204.5 380.3h0M74.9 404.2h0M170.0 423.6h0M159.3 383.7h0M126.4 449.0h0M198.2 385.6h0M195.1 383.1h0M162.7 387.2h0M177.3 445.0h0M149.1 438.3h0M168.3 437.4h0M161.2 419.6h0M152.4 436.3h0M151.5 444.7h0M146.4 400.1h0M157.1 379.1h0M133.2 467.0h0M71.2 401.7h0M200.3 381.4h0M77.1 400.2h0M168.2 416.1h0M146.4 379.8h0M73.9 401.2h0M140.8 379.8h0M122.5 461.4h0M167.5 380.7h0M87.2 392.1h0M126.4 465.0h0M158.7 438.5h0M159.8 438.3h0M152.0 447.5h0M140.8 435.9h0M162.5 436.2h0M198.0 419.6h0M71.2 405.9h0M200.0 381.9h0M150.5 399.1h0M206.1 383.9h0M153.4 404.0h0M183.8 378.4h0M144.1 378.1h0M192.2 376.1h0M186.1 413.1h0M145.6 440.1h0M65.5 406.1h0M166.4 424.3h0M173.3 425.7h0M152.1 379.0h0M152.7 377.8h0M137.7 370.7h0M79.9 404.5h0M151.6 429.0h0M172.2 432.4h0M181.6 383.4h0M202.0 379.7h0M171.3 376.6h0M207.8 431.8h0M77.4 395.7h0M178.0 417.5h0M146.6 376.1h0M166.0 419.8h0M182.3 433.5h0M108.8 396.8h0M67.5 403.3h0M200.6 420.4h0M190.1 413.2h0M192.5 382.9h0M126.2 439.6h0M78.9 399.9h0M85.8 402.6h0M183.1 419.7h0M72.6 408.7h0M159.2 380.9h0M153.7 402.0h0M142.3 443.7h0M140.2 377.7h0M131.8 450.7h0M140.1 460.4h0M177.4 413.3h0M121.6 447.7h0M179.8 438.3h0M190.7 375.0h0M138.3 379.2h0M109.1 400.4h0M159.2 418.7h0M148.0 437.5h0M76.5 401.4h0M139.3 373.6h0M166.4 445.7h0M79.7 388.9h0M151.0 434.1h0M148.2 402.8h0M154.3 401.1h0M170.2 420.9h0M125.6 462.2h0M152.4 438.4h0M159.9 378.2h0M178.0 416.6h0M163.5 429.2h0M157.0 372.7h0M191.3 380.8h0M137.6 440.6h0M161.3 370.8h0M171.4 435.6h0M125.5 464.3h0M159.3 433.4h0M159.3 378.3h0M192.7 374.9h0M81.4 397.0h0M148.7 426.5h0M188.5 426.2h0M204.2 427.6h0M118.1 466.6h0M196.3 418.5h0M141.1 428.8h0M148.5 429.8h0M67.6 409.0h0M195.1 427.2h0M154.6 431.3h0M147.8 404.1h0M148.7 440.5h0M147.0 376.9h0M148.9 438.6h0M79.9 397.2h0M72.9 399.3h0M161.6 428.2h0M194.1 379.4h0M147.7 402.8h0M111.3 467.3h0M191.2 377.0h0M65.2 402.0h0M141.2 438.3h0M176.6 440.6h0M145.4 430.5h0M167.9 423.3h0M159.5 439.4h0M164.2 386.1h0M134.5 442.7h0M126.5 462.8h0M78.4 398.2h0M140.6 435.5h0M202.8 424.4h0M185.5 375.9h0M169.1 419.2h0M147.2 426.9h0M123.3 462.8h0M147.9 439.1h0M167.5 423.8h0M154.6 379.0h0M161.4 376.6h0M188.0 382.5h0M154.7 399.7h0M206.1 429.6h0M85.0 396.0h0M72.8 400.0h0M150.8 403.4h0M123.1 467.2h0M82.5 393.1h0M65.4 401.1h0M193.5 421.0h0M189.7 420.9h0M130.9 436.5h0M73.9 399.7h0M206.6 420.7h0M168.8 417.8h0M158.2 376.9h0M198.7 418.1h0M149.7 426.4h0M185.3 412.9h0M192.2 431.4h0M167.6 380.1h0M160.1 375.0h0M136.7 459.3h0M187.4 418.7h0M74.4 400.6h0M84.0 402.2h0M178.4 415.2h0M171.6 421.6h0M165.4 434.8h0M145.9 371.9h0M178.5 447.3h0M89.0 391.1h0M165.7 429.8h0M126.5 463.1h0M188.7 376.1h0M85.0 400.3h0M186.0 379.9h0M152.6 403.2h0M153.5 441.8h0M144.7 440.1h0M133.7 379.4h0M167.4 420.7h0M148.6 434.8h0M153.5 375.7h0M186.2 419.5h0M62.8 400.6h0" stroke="rgb(238,152,82)" stroke-width="1.65" stroke-opacity="0.82"/>
<path d="M105.0 397.7h0M95.9 407.7h0M181.8 385.9h0M136.0 454.9h0M184.8 428.0h0M98.8 411.4h0M157.0 453.9h0M202.0 426.1h0M177.6 439.6h0M156.5 445.7h0M162.5 447.5h0M134.2 451.7h0M96.9 405.0h0M175.6 451.5h0M177.7 438.5h0M180.7 390.9h0M137.5 455.2h0M176.9 441.3h0M179.8 425.3h0M97.3 408.9h0M97.7 411.5h0M141.4 431.7h0M184.5 438.7h0M148.0 450.7h0M200.6 387.8h0M170.2 383.7h0M166.7 428.6h0M182.6 432.3h0M102.1 394.7h0M98.7 394.9h0M146.1 456.4h0M105.7 388.3h0M171.7 386.3h0M176.0 441.2h0M103.7 387.4h0M148.2 457.7h0M192.3 435.8h0M157.6 436.6h0M114.7 390.9h0M188.9 422.0h0M199.1 427.0h0M138.0 441.1h0M86.0 409.6h0M109.9 397.6h0M101.5 393.8h0M100.5 402.9h0M163.7 453.3h0M181.0 433.8h0M143.8 453.8h0M136.4 456.6h0M139.1 449.9h0M128.1 460.3h0M147.8 452.2h0M198.4 419.2h0M167.7 449.2h0M96.2 407.9h0M134.8 451.6h0M152.4 451.8h0M177.8 438.7h0M137.8 451.4h0M168.3 437.0h0M153.1 462.8h0M191.5 431.4h0M191.2 443.4h0M188.7 387.7h0M155.2 430.9h0M149.2 448.3h0M166.4 444.6h0M128.5 458.0h0M174.7 384.8h0M175.2 437.0h0M201.7 423.5h0M87.3 411.2h0M181.5 433.0h0M144.8 460.7h0M168.8 440.4h0M103.9 399.1h0M185.4 427.5h0M159.4 454.2h0M148.5 459.1h0M192.3 392.5h0M204.5 385.0h0M94.8 405.6h0M150.5 449.0h0M127.8 457.3h0M156.1 446.9h0M193.0 423.9h0M192.1 389.0h0M200.9 387.1h0M197.9 426.3h0M183.8 430.9h0M102.8 393.2h0M144.6 450.1h0M167.9 446.4h0M176.2 427.2h0M199.8 423.5h0M170.6 387.6h0M173.7 449.5h0M188.2 447.7h0M169.6 386.3h0M182.5 442.4h0M178.8 439.1h0M140.0 459.4h0M106.5 393.2h0M142.5 458.3h0M172.5 383.9h0M183.4 385.4h0M187.5 388.1h0M96.0 407.6h0M165.2 446.9h0M185.5 434.6h0M102.6 393.8h0M183.8 428.5h0M186.6 446.0h0M173.1 438.2h0M171.6 388.1h0M175.0 447.9h0M190.4 427.3h0M93.4 403.8h0M170.8 380.7h0M148.1 448.6h0M128.5 461.9h0M130.6 455.4h0M96.6 409.4h0M180.4 418.9h0M190.3 433.4h0M100.9 398.9h0M97.5 413.3h0M191.6 432.5h0M101.6 409.4h0M143.1 450.7h0M144.6 450.1h0M171.3 387.6h0M121.3 389.7h0M151.9 431.1h0M152.1 452.7h0M172.9 455.6h0M168.1 383.5h0M178.7 421.8h0M190.0 449.2h0M192.4 436.1h0M174.1 442.2h0M164.2 450.9h0M162.8 386.4h0M146.6 446.4h0M140.5 452.4h0M182.5 439.1h0M140.7 455.7h0M193.1 417.3h0M170.2 382.0h0M185.3 390.4h0M154.9 444.2h0M189.8 389.8h0M98.9 400.8h0M175.2 428.4h0M144.7 462.6h0M118.0 395.3h0M190.4 422.1h0M138.9 459.9h0M194.2 432.0h0M97.2 404.0h0M165.8 447.5h0M170.0 387.3h0M170.6 446.4h0M145.3 454.6h0M144.6 447.6h0M190.3 444.2h0M142.8 465.7h0M122.1 467.9h0M113.8 458.4h0M172.9 442.7h0M99.0 407.9h0M188.7 383.1h0M139.6 461.7h0M170.2 434.6h0M175.3 442.5h0M180.5 447.7h0M167.2 443.6h0M158.6 385.5h0M198.0 383.1h0M177.7 389.8h0M187.4 424.5h0M186.6 388.0h0M96.7 398.1h0M189.1 428.6h0M183.4 447.4h0M122.1 465.2h0M139.3 460.0h0M98.5 410.5h0M173.9 438.4h0M107.6 398.5h0M178.8 421.7h0M127.5 463.9h0M114.3 391.1h0M131.4 456.1h0M165.0 459.3h0M192.4 384.7h0M144.4 454.0h0M164.2 438.5h0M95.6 396.5h0M157.2 445.0h0M91.6 406.6h0M135.3 451.8h0M135.2 454.0h0M147.6 437.6h0M108.6 394.5h0M174.5 433.9h0M102.8 391.1h0M183.6 443.3h0M108.8 396.3h0M133.5 444.3h0M161.7 444.0h0M176.6 440.6h0M204.8 431.9h0M192.1 445.0h0M99.2 402.7h0M147.2 451.6h0M192.0 422.5h0M168.0 450.3h0M192.8 382.6h0M106.1 403.3h0M112.0 388.0h0M186.8 390.9h0M188.0 435.8h0M155.6 438.3h0M134.3 454.7h0M113.6 396.7h0M146.2 446.5h0M122.0 465.0h0M172.6 448.8h0M194.0 439.9h0M133.8 436.8h0M148.9 457.1h0M131.6 453.2h0M130.7 461.5h0M144.3 456.4h0M127.2 464.4h0M196.4 432.3h0M180.2 436.3h0M142.9 453.0h0M171.1 390.3h0M93.2 410.2h0M145.5 454.0h0M196.7 427.2h0M105.2 403.5h0M172.8 450.2h0M145.8 451.7h0M115.4 391.0h0M116.1 456.6h0M130.2 466.0h0M172.5 445.4h0M187.1 419.1h0M122.2 460.9h0M191.2 424.3h0M103.3 400.8h0M177.5 432.7h0M100.2 408.9h0M122.7 460.1h0M141.5 453.1h0M147.1 426.9h0M134.4 462.2h0M191.0 437.7h0M201.3 424.1h0M179.2 445.4h0M159.1 436.0h0M168.1 430.6h0M100.8 410.3h0M143.4 461.7h0M175.8 386.0h0M139.4 457.1h0M98.5 399.6h0M183.3 418.6h0M181.5 444.0h0M184.5 436.1h0M134.1 452.2h0M195.3 427.6h0M188.8 424.3h0M135.4 456.6h0M190.5 387.8h0M180.9 427.8h0M92.5 407.5h0M96.7 416.3h0M180.0 441.3h0M99.9 405.8h0M183.4 384.7h0M195.7 428.8h0M131.0 455.1h0M137.3 449.6h0M173.6 436.5h0M105.7 396.4h0M187.3 435.8h0M96.7 409.3h0M176.0 444.6h0M180.7 426.5h0M141.9 458.1h0M123.0 458.8h0M191.8 433.5h0M106.8 392.1h0M100.8 395.6h0M106.9 397.5h0M144.3 452.0h0M114.6 394.6h0M98.2 414.0h0M191.7 387.3h0M92.6 394.3h0M103.2 392.6h0M146.0 453.4h0M150.2 460.1h0M162.3 447.0h0M109.6 396.7h0M150.6 461.3h0M168.1 443.3h0M206.3 425.0h0M181.6 387.5h0M176.1 449.4h0M201.2 428.7h0M159.0 457.2h0M107.6 391.0h0M154.3 445.1h0M120.8 456.4h0M89.0 407.8h0M166.8 445.6h0M181.9 428.9h0M141.7 456.7h0M171.1 425.1h0M201.0 431.4h0M99.8 406.6h0M94.4 408.2h0M183.8 436.5h0M175.9 449.4h0M89.3 409.1h0M144.8 450.5h0M176.1 448.4h0M189.1 430.2h0M107.6 392.0h0M191.7 432.2h0M171.2 386.9h0M168.9 384.6h0M182.9 428.3h0M153.8 459.5h0M171.6 447.1h0M136.0 460.0h0M178.9 388.0h0M107.4 390.7h0M168.8 446.4h0M99.0 410.8h0M123.1 459.5h0M121.3 467.6h0M169.6 437.2h0M95.4 412.2h0M180.5 433.6h0M140.1 452.0h0M138.4 455.0h0M120.2 457.3h0M115.1 391.0h0M177.1 430.1h0M134.7 454.2h0M188.5 443.2h0M113.5 392.8h0M176.4 436.7h0M181.2 445.4h0M142.0 455.8h0M196.1 436.4h0M95.4 415.0h0M136.6 460.4h0M176.4 423.7h0M136.8 446.0h0M145.1 458.5h0M94.7 396.7h0M133.2 464.3h0M165.0 420.7h0M196.6 384.5h0M156.3 458.9h0M132.6 456.1h0M160.7 382.8h0M112.5 462.7h0M97.7 411.9h0M176.7 438.4h0M178.6 450.4h0M185.5 443.2h0M143.4 458.8h0M88.0 403.1h0M144.6 447.1h0M196.2 444.4h0M165.7 391.7h0M98.7 404.8h0M185.1 425.7h0M141.6 452.2h0M170.6 447.7h0M139.7 452.9h0M183.1 387.0h0M184.1 441.7h0M130.2 458.7h0M144.5 452.6h0M195.3 387.2h0M169.7 448.9h0M202.2 434.6h0M141.7 461.4h0M152.8 448.9h0M188.1 449.9h0M190.4 426.7h0M146.4 439.3h0M188.3 387.2h0M138.1 462.1h0M161.1 444.2h0M189.4 448.8h0M182.1 438.6h0M92.7 413.5h0M97.6 395.6h0M197.6 388.1h0M137.3 457.7h0M184.0 421.9h0M179.2 432.8h0M175.9 383.6h0M181.0 428.3h0M167.0 380.8h0M144.1 454.4h0M170.3 386.7h0M180.8 432.0h0M169.0 447.7h0M130.7 462.4h0M112.4 397.9h0M171.2 440.7h0M108.1 395.1h0M178.5 436.8h0M139.7 453.9h0M108.2 390.4h0M182.6 390.0h0M129.8 464.0h0M167.1 456.8h0M142.1 457.3h0M169.9 444.5h0M162.2 444.4h0M172.1 434.5h0M89.3 410.2h0M146.2 447.4h0M142.6 453.7h0M186.6 432.7h0M189.1 440.1h0M188.7 446.8h0M180.7 438.1h0M128.4 460.6h0M109.4 391.7h0M100.3 399.1h0M190.1 433.7h0M87.9 406.8h0M174.1 431.4h0M159.2 441.7h0M150.5 443.6h0M96.0 409.1h0M181.4 445.0h0M157.6 452.6h0M151.2 461.1h0M191.2 433.4h0M128.5 457.2h0M148.7 457.7h0M150.6 454.9h0M178.3 425.8h0M150.8 454.6h0M171.3 426.5h0M149.9 452.3h0M190.7 383.3h0M185.0 417.4h0M187.2 385.9h0M99.6 413.5h0M136.9 456.7h0M113.8 396.8h0M111.2 394.5h0M141.0 454.7h0M143.3 451.7h0M148.2 454.9h0M172.1 434.6h0M164.5 448.4h0M140.1 459.6h0M171.3 447.5h0M154.1 454.7h0M182.3 447.3h0M105.9 392.2h0M172.1 388.9h0M185.6 442.8h0M192.5 421.5h0M198.1 384.8h0M191.7 431.4h0M92.0 412.4h0M174.7 452.4h0M176.1 424.0h0M189.3 381.9h0M114.0 392.9h0M109.4 389.8h0M177.6 441.4h0M179.0 425.8h0M181.8 426.5h0M190.2 434.0h0M152.9 448.3h0M185.3 455.4h0M168.1 438.6h0M140.1 432.3h0M179.7 435.7h0M113.9 395.6h0M156.6 449.3h0M101.1 414.3h0M138.2 435.9h0M104.1 395.8h0M165.2 450.8h0M203.0 385.8h0M103.2 409.1h0M200.3 387.8h0M174.6 447.7h0M189.0 385.0h0M159.8 386.4h0M173.6 436.7h0M176.1 442.1h0M135.0 457.0h0M187.1 431.6h0M136.2 448.5h0M198.6 434.9h0M186.3 441.1h0M187.7 426.1h0M154.7 450.8h0M97.9 404.6h0M183.2 388.2h0M102.3 409.6h0M102.3 403.8h0M97.0 404.4h0M196.6 433.7h0M138.7 456.6h0M191.2 445.0h0M151.7 461.3h0M132.5 458.4h0M190.2 429.5h0M185.5 419.5h0M101.0 409.1h0M179.8 385.1h0M129.4 457.7h0M145.8 452.8h0M182.6 452.8h0M186.8 445.3h0M101.8 399.8h0M100.3 391.2h0M109.5 389.2h0M166.0 451.0h0M164.6 454.1h0M191.0 434.0h0M145.1 464.2h0M180.7 445.9h0M185.9 435.8h0M187.0 441.3h0M167.5 435.3h0M153.7 447.7h0M180.7 384.9h0M193.7 425.9h0M182.2 430.3h0M88.3 414.2h0M142.4 456.0h0M118.3 463.1h0M139.2 452.0h0M139.4 455.1h0M148.7 450.3h0M118.7 463.7h0M136.7 459.7h0M189.5 385.9h0M139.7 453.8h0M190.1 424.6h0M178.0 436.0h0M141.2 459.0h0M175.4 438.4h0M122.3 458.9h0M128.4 459.9h0M108.3 399.3h0M167.9 417.8h0M184.8 423.3h0M133.0 458.0h0M109.1 389.5h0M173.8 438.8h0M144.2 437.5h0M166.9 436.9h0M148.4 453.2h0M169.1 451.4h0M173.9 427.2h0M166.7 429.5h0M192.3 389.7h0M90.7 412.9h0M176.2 441.3h0M156.2 447.4h0M137.5 435.9h0M172.2 442.8h0M150.1 451.0h0M89.2 411.2h0M135.8 446.3h0M188.7 423.7h0M140.3 455.4h0M108.8 397.2h0M192.5 439.8h0M134.7 450.9h0M140.3 458.8h0M207.0 425.6h0M184.6 424.3h0M116.8 397.2h0M153.0 454.0h0M143.4 449.0h0M172.5 427.8h0M148.2 460.6h0M153.1 446.6h0M100.7 397.4h0M178.3 386.3h0M175.8 415.8h0M103.4 394.8h0M104.3 391.9h0M188.8 431.9h0M157.8 438.7h0M111.6 391.1h0M194.1 426.1h0M155.1 451.7h0M94.3 410.9h0M143.3 447.4h0M184.8 423.2h0M129.2 459.8h0M138.3 453.1h0M189.4 426.0h0M191.8 417.2h0M95.9 413.6h0M102.0 405.0h0M93.0 414.7h0M186.9 444.7h0M195.6 439.6h0M96.4 394.6h0M188.3 391.2h0M184.9 433.3h0M147.8 450.4h0M180.4 444.2h0M173.5 422.9h0M196.5 421.1h0M148.6 454.4h0M183.5 433.6h0M180.0 424.0h0M182.2 449.5h0M98.3 413.1h0M107.3 391.0h0M130.1 450.8h0M95.5 408.5h0M188.4 421.2h0M137.3 459.5h0M94.5 395.8h0M97.0 401.2h0M140.4 445.2h0M124.8 468.6h0M155.6 453.5h0M156.7 440.4h0M136.2 451.4h0M95.0 412.8h0M101.5 396.0h0M149.5 438.1h0M182.8 436.7h0M169.3 433.9h0M184.4 388.0h0M109.6 389.6h0M138.5 460.4h0M184.1 389.1h0M184.7 389.6h0M197.8 433.1h0M193.0 434.7h0M203.1 428.1h0M165.3 390.2h0M133.8 461.2h0M141.1 450.7h0M118.2 391.3h0M186.1 431.1h0M126.5 468.0h0M203.2 387.5h0M132.6 459.3h0M149.1 455.4h0M123.2 463.3h0M115.9 396.3h0M192.3 388.1h0M95.5 409.9h0M186.4 432.2h0M130.1 455.7h0M138.5 436.4h0M161.3 450.2h0M196.5 428.6h0M174.6 387.8h0M96.0 406.9h0M140.9 451.2h0M181.7 443.3h0M132.9 461.3h0M140.6 450.6h0M194.2 435.8h0M163.6 384.0h0M140.2 451.5h0M160.7 443.9h0M178.2 439.6h0M93.6 400.6h0M109.2 394.0h0M177.8 447.3h0M158.2 421.4h0M105.1 395.1h0M183.4 439.0h0M128.7 451.3h0M173.9 427.2h0M186.1 434.2h0M96.6 406.6h0M166.9 453.0h0M181.1 440.9h0M102.8 404.4h0M168.8 389.9h0M101.8 394.3h0M183.0 390.6h0M102.1 410.2h0M97.3 401.8h0M111.7 395.1h0M92.4 409.5h0M183.6 438.3h0M156.1 455.5h0M125.2 459.1h0M182.2 430.2h0M158.9 455.8h0M168.1 383.9h0M160.8 454.7h0M183.5 425.5h0M149.9 446.4h0M186.8 419.3h0M102.1 397.6h0M141.5 455.4h0M107.4 390.1h0M184.8 385.5h0M98.0 395.9h0M165.8 445.1h0M189.9 438.1h0M185.3 423.1h0M116.0 458.9h0M148.5 456.1h0M155.1 455.0h0M96.1 398.3h0M187.2 426.1h0M172.4 442.5h0M162.1 423.5h0M134.4 453.6h0M136.1 441.1h0M186.4 447.4h0M91.0 405.1h0M134.6 458.3h0M100.6 400.0h0M95.5 402.7h0M174.9 388.6h0M144.1 450.8h0M98.1 412.2h0M145.6 453.5h0M186.6 390.1h0M139.3 463.9h0M181.4 454.3h0M89.5 412.8h0M158.8 447.5h0M99.8 411.4h0M175.8 441.0h0M182.4 446.1h0M167.2 440.6h0M146.6 450.6h0M174.6 388.4h0M171.7 444.4h0M168.9 453.4h0M171.7 451.8h0M175.4 384.5h0M154.4 454.7h0M105.0 413.2h0M106.0 413.5h0M96.1 416.1h0M203.6 432.8h0M186.0 427.7h0M175.0 457.7h0M101.8 397.5h0M184.2 445.5h0M122.1 450.3h0M175.5 437.5h0M176.3 390.0h0M107.6 392.2h0M165.5 445.0h0M180.2 444.4h0M116.6 457.5h0M190.5 433.6h0M128.5 453.4h0M174.0 387.0h0M149.5 451.8h0M186.1 441.3h0M195.1 433.4h0M95.7 414.4h0M165.5 453.0h0M147.5 450.5h0M112.4 393.0h0M184.5 429.9h0M184.4 435.0h0M103.0 396.2h0M130.0 455.5h0M163.4 383.2h0M186.1 448.4h0M144.6 462.4h0M130.4 459.3h0M157.4 383.2h0M95.1 412.5h0M111.7 391.3h0M113.8 397.2h0M104.4 402.0h0M149.9 424.3h0M106.2 398.6h0M184.2 386.6h0M147.2 458.1h0M197.0 428.6h0M142.4 455.4h0M170.3 384.5h0M150.6 457.7h0M132.9 458.0h0M197.8 383.9h0M178.0 392.0h0M190.9 415.3h0M95.7 408.7h0M177.0 384.2h0M126.2 457.4h0M173.5 441.4h0M202.0 384.1h0M92.4 412.8h0M187.8 448.6h0M98.8 396.9h0M201.7 432.4h0M195.8 443.0h0M162.6 455.8h0M94.4 407.7h0M102.6 393.4h0M162.5 438.0h0M151.8 453.3h0M179.0 444.9h0M119.4 452.0h0M132.5 451.6h0M161.0 442.2h0M101.0 411.9h0M121.5 460.4h0M141.0 454.7h0M101.6 412.4h0" stroke="rgb(105,148,215)" stroke-width="1.65" stroke-opacity="0.82"/>
<path d="M136.9 418.2h0M136.2 419.5h0M136.5 417.2h0M139.4 418.2h0M136.4 418.1h0M135.4 421.3h0M136.3 418.6h0M135.8 418.0h0M138.7 417.3h0M133.5 420.5h0M136.8 419.4h0M136.3 418.3h0M136.7 418.8h0M133.6 419.8h0M134.8 418.1h0M131.0 418.1h0M134.2 419.7h0M137.7 418.9h0M122.6 423.4h0M121.7 425.0h0M122.3 423.4h0M123.9 424.1h0M122.4 423.4h0M120.9 422.7h0M131.4 392.8h0M132.4 392.2h0M133.1 392.8h0M133.8 393.0h0M130.7 392.2h0M126.5 390.5h0M131.7 392.9h0M129.7 390.4h0M137.3 391.8h0M125.3 390.5h0M131.0 394.5h0M129.7 391.1h0M138.1 393.0h0M132.3 394.2h0M127.7 391.9h0M135.2 392.9h0M127.8 390.8h0M141.0 393.1h0M131.6 393.8h0M124.9 391.7h0M124.9 393.6h0M128.5 392.2h0M128.8 392.3h0M134.4 392.6h0M131.5 392.7h0" stroke="#a08a78" stroke-width="1.5" stroke-opacity="0.75"/>
</g>
<g stroke="#4a4a4a" stroke-width="0.75" fill="none">
<polyline points="116.5,363 94.1,399.3 150.5,380.4 186,384.6 200.5,385.8"/>
<polyline points="150.5,380.4 150.5,401.5 170.8,436 137.6,452.6"/>
</g>
<circle cx="115" cy="361.8" r="0.8" fill="#999"/>
<ellipse cx="92.1" cy="399.8" rx="34.8" ry="20.6" fill="none" stroke="#B0283F" stroke-width="1.25" stroke-dasharray="3.6 2.6"/>
<text x="73.3" y="429.8" font-family="Liberation Sans, sans-serif" font-size="7.1" fill="#DA4646" stroke="#DA4646" stroke-width="0.2">Kupffer cells</text>
<g stroke="#222" stroke-width="1.05" fill="none">
<path d="M51.5 355.5V478.5H215.4"/>
<path d="M48.7 361.9H51.5"/>
<path d="M48.7 380.6H51.5"/>
<path d="M48.7 399.3H51.5"/>
<path d="M48.7 418.0H51.5"/>
<path d="M48.7 436.7H51.5"/>
<path d="M48.7 455.4H51.5"/>
<path d="M48.7 474.1H51.5"/>
<path d="M63.4 478.5V481.2"/>
<path d="M91.0 478.5V481.2"/>
<path d="M118.6 478.5V481.2"/>
<path d="M146.2 478.5V481.2"/>
<path d="M173.8 478.5V481.2"/>
<path d="M201.4 478.5V481.2"/>
</g>
<g font-family="Liberation Sans, sans-serif" font-size="6.7" fill="#333" stroke="#333" stroke-width="0.2">
<text x="46.3" y="364.3" text-anchor="end">30</text>
<text x="46.3" y="383.0" text-anchor="end">20</text>
<text x="46.3" y="401.7" text-anchor="end">10</text>
<text x="46.3" y="420.4" text-anchor="end">0</text>
<text x="46.3" y="439.1" text-anchor="end">−10</text>
<text x="46.3" y="457.8" text-anchor="end">−20</text>
<text x="46.3" y="476.5" text-anchor="end">−30</text>
<text x="63.4" y="490.3" text-anchor="middle">−30</text>
<text x="91.0" y="490.3" text-anchor="middle">−20</text>
<text x="118.6" y="490.3" text-anchor="middle">−10</text>
<text x="146.2" y="490.3" text-anchor="middle">0</text>
<text x="173.8" y="490.3" text-anchor="middle">10</text>
<text x="201.4" y="490.3" text-anchor="middle">20</text>
<text x="133.5" y="500.6" text-anchor="middle">t-SNE 1</text>
<text transform="translate(30.6,419) rotate(-90)" text-anchor="middle">t-SNE 2</text>
</g>
<circle cx="61.9" cy="360.1" r="2.1" fill="rgb(105,130,185)"/>
<circle cx="61.9" cy="370.1" r="2.1" fill="rgb(228,150,88)"/>
<g font-family="Liberation Sans, sans-serif" font-size="6.6" font-style="italic" fill="#2a2a2a" stroke="#2a2a2a" stroke-width="0.2">
<text x="67.3" y="362.5">A/A</text><text x="67.3" y="372.5">S/S</text></g>
<text x="233" y="348.6" font-family="Liberation Sans, sans-serif" font-size="12.5" font-weight="bold" fill="#111" stroke="#111" stroke-width="0.35">G</text>
<text x="317.5" y="358.0" font-family="Liberation Sans, sans-serif" font-size="9.36" fill="#1a1a1a" stroke="#1a1a1a" stroke-width="0.2">Upregulated biological processes in <tspan font-style="italic">S/S</tspan></text>
<g font-family="Liberation Sans, sans-serif" font-size="7.16" fill="#2a2a2a" stroke="#2a2a2a" stroke-width="0.2" text-anchor="end">
<text x="393.7" y="374.8">small molecule catabolic process</text>
<text x="393.7" y="385.9">fatty acid metabolic process</text>
<text x="393.7" y="396.9">positive regulation of response to external stimulus</text>
<text x="393.7" y="408.0">leukocyte cell-cell adhesion</text>
<text x="393.7" y="419.1">leukocyte migration</text>
<text x="393.7" y="430.2">actin filament organization</text>
<text x="393.7" y="441.2">cytokine-mediated signaling pathway</text>
<text x="393.7" y="452.3">regulation of inflammatory response</text>
</g>
<g stroke="#222" stroke-width="0.9">
<path d="M397.5 372.3H400.7"/>
<path d="M397.5 383.4H400.7"/>
<path d="M397.5 394.4H400.7"/>
<path d="M397.5 405.5H400.7"/>
<path d="M397.5 416.6H400.7"/>
<path d="M397.5 427.7H400.7"/>
<path d="M397.5 438.7H400.7"/>
<path d="M397.5 449.8H400.7"/>
<path d="M403.5 455.4V458.4"/>
<path d="M422.3 455.4V458.4"/>
<path d="M441.2 455.4V458.4"/>
</g>
<rect x="461.6" y="366.2" width="9.0" height="89.2" fill="#c6c6c6"/>
<text transform="translate(463.7,410.8) rotate(90)" font-family="Liberation Sans, sans-serif" font-size="6.9" fill="#2a2a2a" stroke="#2a2a2a" stroke-width="0.2" text-anchor="middle">BP</text>
<circle cx="456.9" cy="372.3" r="3.45" fill="#4DB3CB" stroke="#000" stroke-opacity="0.25" stroke-width="0.6"/>
<circle cx="443.7" cy="383.4" r="3.20" fill="#4DB3CB" stroke="#000" stroke-opacity="0.25" stroke-width="0.6"/>
<circle cx="436.9" cy="394.4" r="3.00" fill="#4DB3CB" stroke="#000" stroke-opacity="0.25" stroke-width="0.6"/>
<circle cx="423.4" cy="405.5" r="2.70" fill="#52B0CB" stroke="#000" stroke-opacity="0.25" stroke-width="0.6"/>
<circle cx="416.3" cy="416.6" r="2.20" fill="#6E9FB8" stroke="#000" stroke-opacity="0.25" stroke-width="0.6"/>
<circle cx="409.8" cy="427.7" r="1.90" fill="#E03A42" stroke="#000" stroke-opacity="0.25" stroke-width="0.6"/>
<circle cx="409.8" cy="438.7" r="1.90" fill="#B08890" stroke="#000" stroke-opacity="0.25" stroke-width="0.6"/>
<circle cx="403.1" cy="449.8" r="0.90" fill="#888" stroke="#000" stroke-opacity="0.25" stroke-width="0.6"/>
<rect x="400.7" y="366.2" width="59.6" height="89.2" fill="none" stroke="#111" stroke-width="1.15"/>
<g font-family="Liberation Sans, sans-serif" font-size="7" fill="#333" stroke="#333" stroke-width="0.2">
<text transform="translate(406.7,465.6) rotate(-45)" text-anchor="end">0.05</text>
<text transform="translate(425.5,465.6) rotate(-45)" text-anchor="end">0.06</text>
<text transform="translate(444.4,465.6) rotate(-45)" text-anchor="end">0.07</text>
</g>
<text x="430.0" y="487.0" font-family="Liberation Sans, sans-serif" font-size="7.1" fill="#2a2a2a" stroke="#2a2a2a" stroke-width="0.2" text-anchor="middle">GeneRatio</text>
<text x="474.5" y="369.3" font-family="Liberation Sans, sans-serif" font-size="6.7" fill="#2a2a2a" stroke="#2a2a2a" stroke-width="0.2"><tspan font-style="italic">P</tspan> adj</text>
<defs><linearGradient id="pg1" x1="0" y1="0" x2="0" y2="1"><stop offset="0" stop-color="#E8473A"/><stop offset="0.5" stop-color="#B08A92"/><stop offset="1" stop-color="#56B5D2"/></linearGradient></defs>
<rect x="474.4" y="372.0" width="7.3" height="35.0" fill="url(#pg1)"/>
<g font-family="Liberation Sans, sans-serif" font-size="6.6" fill="#2a2a2a" stroke="#2a2a2a" stroke-width="0.2">
<text x="484.9" y="381.2">0.0015</text>
<text x="484.9" y="390.7">0.0010</text>
<text x="484.9" y="400.1">0.0005</text>
<text x="474.5" y="418.1">Counts</text>
<text x="484.9" y="425.4">14</text>
<text x="484.9" y="432.3">16</text>
<text x="484.9" y="439.2">18</text>
<text x="484.9" y="446.9">20</text>
<text x="484.9" y="454.6">22</text>
</g>
<circle cx="478.4" cy="423.1" r="0.70" fill="#cacaca" stroke="#2a2a2a" stroke-width="0.75"/>
<circle cx="478.4" cy="430.0" r="2.00" fill="#cacaca" stroke="#2a2a2a" stroke-width="0.75"/>
<circle cx="478.4" cy="436.9" r="2.60" fill="#cacaca" stroke="#2a2a2a" stroke-width="0.75"/>
<circle cx="478.4" cy="444.6" r="3.00" fill="#cacaca" stroke="#2a2a2a" stroke-width="0.75"/>
<circle cx="478.4" cy="452.3" r="3.40" fill="#cacaca" stroke="#2a2a2a" stroke-width="0.75"/>
<text x="323.7" y="508.3" font-family="Liberation Sans, sans-serif" font-size="9.36" fill="#1a1a1a" stroke="#1a1a1a" stroke-width="0.2">Upregulated KEGG pathways in <tspan font-style="italic">S/S</tspan></text>
<g font-family="Liberation Sans, sans-serif" font-size="7.16" fill="#2a2a2a" stroke="#2a2a2a" stroke-width="0.2" text-anchor="end">
<text x="393.2" y="524.8">C-type lectin receptor signaling pathway</text>
<text x="393.2" y="535.8">Steroid hormone biosynthesis</text>
<text x="393.2" y="546.7">Carbon metabolism</text>
<text x="393.2" y="557.7">Biosynthesis of cofactors</text>
<text x="393.2" y="568.7">Metabolism of xenobiotics by cytochrome P450</text>
<text x="393.2" y="579.6">Glutathione metabolism</text>
<text x="393.2" y="590.6">Drug metabolism - cytochrome P450</text>
<text x="393.2" y="601.6">IL-17 signaling pathway</text>
</g>
<g stroke="#222" stroke-width="0.9">
<path d="M397.5 522.3H400.7"/>
<path d="M397.5 533.3H400.7"/>
<path d="M397.5 544.2H400.7"/>
<path d="M397.5 555.2H400.7"/>
<path d="M397.5 566.2H400.7"/>
<path d="M397.5 577.1H400.7"/>
<path d="M397.5 588.1H400.7"/>
<path d="M397.5 599.1H400.7"/>
<path d="M410.4 605.5V608.5"/>
<path d="M427.0 605.5V608.5"/>
<path d="M443.5 605.5V608.5"/>
<path d="M459.6 605.5V608.5"/>
</g>
<rect x="466.6" y="516.2" width="9.8" height="89.3" fill="#c6c6c6"/>
<text transform="translate(469.1,560.9) rotate(90)" font-family="Liberation Sans, sans-serif" font-size="6.9" fill="#2a2a2a" stroke="#2a2a2a" stroke-width="0.2" text-anchor="middle">KEGG</text>
<circle cx="462.4" cy="522.3" r="3.40" fill="#4DB3CB" stroke="#000" stroke-opacity="0.25" stroke-width="0.6"/>
<circle cx="462.4" cy="533.3" r="3.40" fill="#4DB3CB" stroke="#000" stroke-opacity="0.25" stroke-width="0.6"/>
<circle cx="442.6" cy="544.2" r="3.40" fill="#6C9DB3" stroke="#000" stroke-opacity="0.25" stroke-width="0.6"/>
<circle cx="423.2" cy="555.2" r="3.00" fill="#E3473A" stroke="#000" stroke-opacity="0.25" stroke-width="0.6"/>
<circle cx="423.2" cy="566.2" r="2.80" fill="#4DB3CB" stroke="#000" stroke-opacity="0.25" stroke-width="0.6"/>
<circle cx="423.2" cy="577.1" r="2.80" fill="#4DB3CB" stroke="#000" stroke-opacity="0.25" stroke-width="0.6"/>
<circle cx="423.2" cy="588.1" r="2.80" fill="#4DB3CB" stroke="#000" stroke-opacity="0.25" stroke-width="0.6"/>
<circle cx="402.9" cy="599.1" r="1.40" fill="#99a" stroke="#000" stroke-opacity="0.25" stroke-width="0.6"/>
<rect x="400.7" y="516.2" width="65.1" height="89.3" fill="none" stroke="#111" stroke-width="1.15"/>
<g font-family="Liberation Sans, sans-serif" font-size="7" fill="#333" stroke="#333" stroke-width="0.2">
<text transform="translate(413.6,615.7) rotate(-45)" text-anchor="end">0.045</text>
<text transform="translate(430.2,615.7) rotate(-45)" text-anchor="end">0.050</text>
<text transform="translate(446.7,615.7) rotate(-45)" text-anchor="end">0.055</text>
<text transform="translate(462.8,615.7) rotate(-45)" text-anchor="end">0.060</text>
</g>
<text x="432.7" y="640.0" font-family="Liberation Sans, sans-serif" font-size="7.1" fill="#2a2a2a" stroke="#2a2a2a" stroke-width="0.2" text-anchor="middle">GeneRatio</text>
<text x="480.0" y="523.3" font-family="Liberation Sans, sans-serif" font-size="6.7" fill="#2a2a2a" stroke="#2a2a2a" stroke-width="0.2"><tspan font-style="italic">P</tspan> adj</text>
<defs><linearGradient id="pg2" x1="0" y1="0" x2="0" y2="1"><stop offset="0" stop-color="#E8473A"/><stop offset="0.5" stop-color="#B08A92"/><stop offset="1" stop-color="#56B5D2"/></linearGradient></defs>
<rect x="480.0" y="525.0" width="7.0" height="35.8" fill="url(#pg2)"/>
<g font-family="Liberation Sans, sans-serif" font-size="6.6" fill="#2a2a2a" stroke="#2a2a2a" stroke-width="0.2">
<text x="489.6" y="533.5">0.05</text>
<text x="489.6" y="539.5">0.04</text>
<text x="489.6" y="545.5">0.03</text>
<text x="489.6" y="551.5">0.02</text>
<text x="489.6" y="557.5">0.01</text>
<text x="480.0" y="571.6">Counts</text>
<text x="489.6" y="578.7">7</text>
<text x="489.6" y="586.0">8</text>
<text x="489.6" y="593.3">9</text>
<text x="489.6" y="600.9">10</text>
</g>
<circle cx="484.5" cy="576.4" r="0.70" fill="#cacaca" stroke="#2a2a2a" stroke-width="0.75"/>
<circle cx="484.5" cy="583.7" r="2.50" fill="#cacaca" stroke="#2a2a2a" stroke-width="0.75"/>
<circle cx="484.5" cy="591.0" r="3.00" fill="#cacaca" stroke="#2a2a2a" stroke-width="0.75"/>
<circle cx="484.5" cy="598.6" r="3.40" fill="#cacaca" stroke="#2a2a2a" stroke-width="0.75"/>
<rect x="0.5" y="0.5" width="519" height="649" fill="none" stroke="#4a4a4a" stroke-width="1.2"/>
</svg></body></html>
